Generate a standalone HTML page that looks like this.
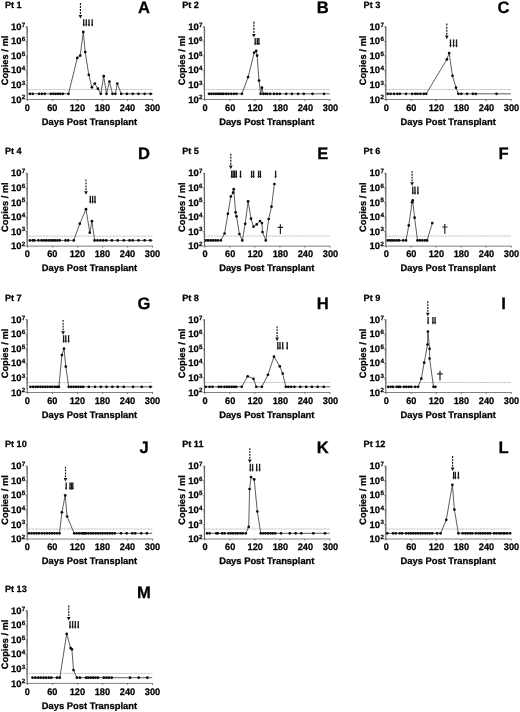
<!DOCTYPE html>
<html><head><meta charset="utf-8"><title>Figure</title>
<style>
html,body{margin:0;padding:0;background:#fff;}
body{width:520px;height:712px;overflow:hidden;}
svg{display:block;transform:translateZ(0);will-change:transform;filter:blur(0.3px);}
text{font-family:"Liberation Sans",sans-serif;font-weight:bold;fill:#000;stroke:#000;stroke-width:0.25px;text-rendering:geometricPrecision;}
.t{font-size:9.5px;}
.s{font-size:6.2px;}
.ty{font-size:9.45px;}
.l{font-size:9.4px;}
.ly{font-size:9.3px;}
.p{font-size:9.15px;}
.L{font-size:16.6px;}
</style></head><body>
<svg width="520" height="712" viewBox="0 0 520 712">
<rect width="520" height="712" fill="#fff"/>
<g>
<line x1="27.6" y1="89.5" x2="152.6" y2="89.5" stroke="#b4b4b4" stroke-width="0.9" stroke-dasharray="1 0.4"/>
<line x1="27.2" y1="26.5" x2="27.2" y2="100" stroke="#666666" stroke-width="1.1"/>
<path d="M27.6 99.5h-2.2M27.6 95.12h-1.3M27.6 92.55h-1.3M27.6 90.73h-1.3M27.6 89.32h-1.3M27.6 88.17h-1.3M27.6 87.2h-1.3M27.6 86.35h-1.3M27.6 85.61h-1.3M27.6 84.94h-2.2M27.6 80.56h-1.3M27.6 77.99h-1.3M27.6 76.17h-1.3M27.6 74.76h-1.3M27.6 73.61h-1.3M27.6 72.64h-1.3M27.6 71.79h-1.3M27.6 71.05h-1.3M27.6 70.38h-2.2M27.6 66h-1.3M27.6 63.43h-1.3M27.6 61.61h-1.3M27.6 60.2h-1.3M27.6 59.05h-1.3M27.6 58.08h-1.3M27.6 57.23h-1.3M27.6 56.49h-1.3M27.6 55.82h-2.2M27.6 51.44h-1.3M27.6 48.87h-1.3M27.6 47.05h-1.3M27.6 45.64h-1.3M27.6 44.49h-1.3M27.6 43.52h-1.3M27.6 42.67h-1.3M27.6 41.93h-1.3M27.6 41.26h-2.2M27.6 36.88h-1.3M27.6 34.31h-1.3M27.6 32.49h-1.3M27.6 31.08h-1.3M27.6 29.93h-1.3M27.6 28.96h-1.3M27.6 28.11h-1.3M27.6 27.37h-1.3M27.6 26.7h-2.2" stroke="#666666" stroke-width="0.7" fill="none"/>
<line x1="26.8" y1="99.5" x2="153" y2="99.5" stroke="#6a6a6a" stroke-width="0.85"/>
<path d="M27.6 99.5v1.5M52.6 99.5v1.5M77.6 99.5v1.5M102.6 99.5v1.5M127.6 99.5v1.5M152.6 99.5v1.5" stroke="#666666" stroke-width="0.9" fill="none"/>
<text transform="translate(27.25 110.6) scale(0.97 1)" class="t" text-anchor="middle">0</text>
<text transform="translate(52.31 110.6) scale(0.97 1)" class="t" text-anchor="middle">60</text>
<text transform="translate(77.37 110.6) scale(0.97 1)" class="t" text-anchor="middle">120</text>
<text transform="translate(102.43 110.6) scale(0.97 1)" class="t" text-anchor="middle">180</text>
<text transform="translate(127.49 110.6) scale(0.97 1)" class="t" text-anchor="middle">240</text>
<text transform="translate(152.55 110.6) scale(0.97 1)" class="t" text-anchor="middle">300</text>
<text transform="translate(21.5 102.6) scale(1 1)" class="ty" text-anchor="end">10</text>
<text transform="translate(21.8 99.4) scale(1 1)" class="s">2</text>
<text transform="translate(21.5 88.04) scale(1 1)" class="ty" text-anchor="end">10</text>
<text transform="translate(21.8 84.84) scale(1 1)" class="s">3</text>
<text transform="translate(21.5 73.48) scale(1 1)" class="ty" text-anchor="end">10</text>
<text transform="translate(21.8 70.28) scale(1 1)" class="s">4</text>
<text transform="translate(21.5 58.92) scale(1 1)" class="ty" text-anchor="end">10</text>
<text transform="translate(21.8 55.72) scale(1 1)" class="s">5</text>
<text transform="translate(21.5 44.36) scale(1 1)" class="ty" text-anchor="end">10</text>
<text transform="translate(21.8 41.16) scale(1 1)" class="s">6</text>
<text transform="translate(21.5 29.8) scale(1 1)" class="ty" text-anchor="end">10</text>
<text transform="translate(21.8 26.6) scale(1 1)" class="s">7</text>
<text transform="translate(89.5 124.8) scale(1 1)" class="l" text-anchor="middle">Days Post Transplant</text>
<text transform="translate(8 60.5) rotate(-90) scale(1 1)" class="ly" text-anchor="middle">Copies / ml</text>
<text transform="translate(4.9 8.2) scale(1 1)" class="p">Pt 1</text>
<text transform="translate(144 13.3) scale(1 1)" class="L" text-anchor="middle">A</text>
<path d="M29.8 93.8L32.7 93.8L39 93.8L41.9 93.8L44.8 93.8L50.8 93.8L53.4 93.8L55.7 93.8L58 93.8L60.3 93.8L62.9 93.8L68.5 93.8L77.3 57.9L80.2 55.6L83.3 31.9L85.2 52.1L88.8 74.8L91.9 87.3L94.8 83.5L97.9 88.7L100.8 93.8L103.7 76.2L106.5 93.8L109.4 81.5L112.5 93.8L115.4 93.8L117.3 83.5L121.2 93.8L126.9 93.8L132.7 93.8L138.5 93.8L144.6 93.8L150.6 93.8L152.6 93.8" stroke="#383838" stroke-width="0.82" fill="none" stroke-linejoin="round"/>
<circle cx="29.8" cy="93.8" r="1.35" fill="#0a0a0a"/>
<circle cx="32.7" cy="93.8" r="1.35" fill="#0a0a0a"/>
<circle cx="39" cy="93.8" r="1.35" fill="#0a0a0a"/>
<circle cx="41.9" cy="93.8" r="1.35" fill="#0a0a0a"/>
<circle cx="44.8" cy="93.8" r="1.35" fill="#0a0a0a"/>
<circle cx="50.8" cy="93.8" r="1.35" fill="#0a0a0a"/>
<circle cx="53.4" cy="93.8" r="1.35" fill="#0a0a0a"/>
<circle cx="55.7" cy="93.8" r="1.35" fill="#0a0a0a"/>
<circle cx="58" cy="93.8" r="1.35" fill="#0a0a0a"/>
<circle cx="60.3" cy="93.8" r="1.35" fill="#0a0a0a"/>
<circle cx="62.9" cy="93.8" r="1.35" fill="#0a0a0a"/>
<circle cx="68.5" cy="93.8" r="1.35" fill="#0a0a0a"/>
<circle cx="77.3" cy="57.9" r="1.35" fill="#0a0a0a"/>
<circle cx="80.2" cy="55.6" r="1.35" fill="#0a0a0a"/>
<circle cx="83.3" cy="31.9" r="1.35" fill="#0a0a0a"/>
<circle cx="85.2" cy="52.1" r="1.35" fill="#0a0a0a"/>
<circle cx="88.8" cy="74.8" r="1.35" fill="#0a0a0a"/>
<circle cx="91.9" cy="87.3" r="1.35" fill="#0a0a0a"/>
<circle cx="94.8" cy="83.5" r="1.35" fill="#0a0a0a"/>
<circle cx="97.9" cy="88.7" r="1.35" fill="#0a0a0a"/>
<circle cx="100.8" cy="93.8" r="1.35" fill="#0a0a0a"/>
<circle cx="103.7" cy="76.2" r="1.35" fill="#0a0a0a"/>
<circle cx="106.5" cy="93.8" r="1.35" fill="#0a0a0a"/>
<circle cx="109.4" cy="81.5" r="1.35" fill="#0a0a0a"/>
<circle cx="112.5" cy="93.8" r="1.35" fill="#0a0a0a"/>
<circle cx="115.4" cy="93.8" r="1.35" fill="#0a0a0a"/>
<circle cx="117.3" cy="83.5" r="1.35" fill="#0a0a0a"/>
<circle cx="121.2" cy="93.8" r="1.35" fill="#0a0a0a"/>
<circle cx="126.9" cy="93.8" r="1.35" fill="#0a0a0a"/>
<circle cx="132.7" cy="93.8" r="1.35" fill="#0a0a0a"/>
<circle cx="138.5" cy="93.8" r="1.35" fill="#0a0a0a"/>
<circle cx="144.6" cy="93.8" r="1.35" fill="#0a0a0a"/>
<circle cx="150.6" cy="93.8" r="1.35" fill="#0a0a0a"/>
<line x1="80.4" y1="3.1" x2="80.4" y2="14" stroke="#111" stroke-width="1.15" stroke-dasharray="1.94 1.05"/>
<path d="M80.4 18.5l-1.85 -3.6h3.7z" fill="#111"/>
<path d="M83.7 19.2V25.4" stroke="#1a1a1a" stroke-width="1.35" fill="none"/>
<path d="M82.65 24.2h2.1l-0.7 2.1h-0.7z" fill="#222"/>
<path d="M86.3 19.2V25.4" stroke="#1a1a1a" stroke-width="1.35" fill="none"/>
<path d="M85.25 24.2h2.1l-0.7 2.1h-0.7z" fill="#222"/>
<path d="M89 19.2V25.4" stroke="#1a1a1a" stroke-width="1.35" fill="none"/>
<path d="M87.95 24.2h2.1l-0.7 2.1h-0.7z" fill="#222"/>
<path d="M92.2 19.2V25.4" stroke="#1a1a1a" stroke-width="1.35" fill="none"/>
<path d="M91.15 24.2h2.1l-0.7 2.1h-0.7z" fill="#222"/>
</g>
<g>
<line x1="204.9" y1="89.5" x2="329.9" y2="89.5" stroke="#b4b4b4" stroke-width="0.9" stroke-dasharray="1 0.4"/>
<line x1="204.5" y1="26.5" x2="204.5" y2="100" stroke="#666666" stroke-width="1.1"/>
<path d="M204.9 99.5h-2.2M204.9 95.12h-1.3M204.9 92.55h-1.3M204.9 90.73h-1.3M204.9 89.32h-1.3M204.9 88.17h-1.3M204.9 87.2h-1.3M204.9 86.35h-1.3M204.9 85.61h-1.3M204.9 84.94h-2.2M204.9 80.56h-1.3M204.9 77.99h-1.3M204.9 76.17h-1.3M204.9 74.76h-1.3M204.9 73.61h-1.3M204.9 72.64h-1.3M204.9 71.79h-1.3M204.9 71.05h-1.3M204.9 70.38h-2.2M204.9 66h-1.3M204.9 63.43h-1.3M204.9 61.61h-1.3M204.9 60.2h-1.3M204.9 59.05h-1.3M204.9 58.08h-1.3M204.9 57.23h-1.3M204.9 56.49h-1.3M204.9 55.82h-2.2M204.9 51.44h-1.3M204.9 48.87h-1.3M204.9 47.05h-1.3M204.9 45.64h-1.3M204.9 44.49h-1.3M204.9 43.52h-1.3M204.9 42.67h-1.3M204.9 41.93h-1.3M204.9 41.26h-2.2M204.9 36.88h-1.3M204.9 34.31h-1.3M204.9 32.49h-1.3M204.9 31.08h-1.3M204.9 29.93h-1.3M204.9 28.96h-1.3M204.9 28.11h-1.3M204.9 27.37h-1.3M204.9 26.7h-2.2" stroke="#666666" stroke-width="0.7" fill="none"/>
<line x1="204.1" y1="99.5" x2="330.3" y2="99.5" stroke="#6a6a6a" stroke-width="0.85"/>
<path d="M204.9 99.5v1.5M229.9 99.5v1.5M254.9 99.5v1.5M279.9 99.5v1.5M304.9 99.5v1.5M329.9 99.5v1.5" stroke="#666666" stroke-width="0.9" fill="none"/>
<text transform="translate(205.15 110.6) scale(0.97 1)" class="t" text-anchor="middle">0</text>
<text transform="translate(230.21 110.6) scale(0.97 1)" class="t" text-anchor="middle">60</text>
<text transform="translate(255.27 110.6) scale(0.97 1)" class="t" text-anchor="middle">120</text>
<text transform="translate(280.33 110.6) scale(0.97 1)" class="t" text-anchor="middle">180</text>
<text transform="translate(305.39 110.6) scale(0.97 1)" class="t" text-anchor="middle">240</text>
<text transform="translate(330.45 110.6) scale(0.97 1)" class="t" text-anchor="middle">300</text>
<text transform="translate(198.8 102.6) scale(1 1)" class="ty" text-anchor="end">10</text>
<text transform="translate(199.1 99.4) scale(1 1)" class="s">2</text>
<text transform="translate(198.8 88.04) scale(1 1)" class="ty" text-anchor="end">10</text>
<text transform="translate(199.1 84.84) scale(1 1)" class="s">3</text>
<text transform="translate(198.8 73.48) scale(1 1)" class="ty" text-anchor="end">10</text>
<text transform="translate(199.1 70.28) scale(1 1)" class="s">4</text>
<text transform="translate(198.8 58.92) scale(1 1)" class="ty" text-anchor="end">10</text>
<text transform="translate(199.1 55.72) scale(1 1)" class="s">5</text>
<text transform="translate(198.8 44.36) scale(1 1)" class="ty" text-anchor="end">10</text>
<text transform="translate(199.1 41.16) scale(1 1)" class="s">6</text>
<text transform="translate(198.8 29.8) scale(1 1)" class="ty" text-anchor="end">10</text>
<text transform="translate(199.1 26.6) scale(1 1)" class="s">7</text>
<text transform="translate(266.8 124.8) scale(1 1)" class="l" text-anchor="middle">Days Post Transplant</text>
<text transform="translate(185.1 60.5) rotate(-90) scale(1 1)" class="ly" text-anchor="middle">Copies / ml</text>
<text transform="translate(182.2 8.2) scale(1 1)" class="p">Pt 2</text>
<text transform="translate(322.7 13.3) scale(1 1)" class="L" text-anchor="middle">B</text>
<path d="M209 93.8L211.2 93.8L213.5 93.8L215.8 93.8L217.9 93.8L219.8 93.8L221.7 93.8L223.5 93.8L226 93.8L228.5 93.8L231.3 93.8L234 93.8L236.5 93.8L241.9 93.8L248.1 77.1L254.2 52.7L256.2 50.8L257.1 55.6L259 80.6L260.6 93.8L261.9 87.7L263.3 93.8L265.4 93.8L267.3 93.8L270.2 93.8L274 93.8L276.9 93.8L279.8 93.8L286.2 93.8L291.9 93.8L298.1 93.8L303.8 93.8L312.5 93.8L324 93.8L329.8 93.8" stroke="#383838" stroke-width="0.82" fill="none" stroke-linejoin="round"/>
<circle cx="209" cy="93.8" r="1.35" fill="#0a0a0a"/>
<circle cx="211.2" cy="93.8" r="1.35" fill="#0a0a0a"/>
<circle cx="213.5" cy="93.8" r="1.35" fill="#0a0a0a"/>
<circle cx="215.8" cy="93.8" r="1.35" fill="#0a0a0a"/>
<circle cx="217.9" cy="93.8" r="1.35" fill="#0a0a0a"/>
<circle cx="219.8" cy="93.8" r="1.35" fill="#0a0a0a"/>
<circle cx="221.7" cy="93.8" r="1.35" fill="#0a0a0a"/>
<circle cx="223.5" cy="93.8" r="1.35" fill="#0a0a0a"/>
<circle cx="226" cy="93.8" r="1.35" fill="#0a0a0a"/>
<circle cx="228.5" cy="93.8" r="1.35" fill="#0a0a0a"/>
<circle cx="231.3" cy="93.8" r="1.35" fill="#0a0a0a"/>
<circle cx="234" cy="93.8" r="1.35" fill="#0a0a0a"/>
<circle cx="236.5" cy="93.8" r="1.35" fill="#0a0a0a"/>
<circle cx="241.9" cy="93.8" r="1.35" fill="#0a0a0a"/>
<circle cx="248.1" cy="77.1" r="1.35" fill="#0a0a0a"/>
<circle cx="254.2" cy="52.7" r="1.35" fill="#0a0a0a"/>
<circle cx="256.2" cy="50.8" r="1.35" fill="#0a0a0a"/>
<circle cx="257.1" cy="55.6" r="1.35" fill="#0a0a0a"/>
<circle cx="259" cy="80.6" r="1.35" fill="#0a0a0a"/>
<circle cx="260.6" cy="93.8" r="1.35" fill="#0a0a0a"/>
<circle cx="261.9" cy="87.7" r="1.35" fill="#0a0a0a"/>
<circle cx="263.3" cy="93.8" r="1.35" fill="#0a0a0a"/>
<circle cx="265.4" cy="93.8" r="1.35" fill="#0a0a0a"/>
<circle cx="267.3" cy="93.8" r="1.35" fill="#0a0a0a"/>
<circle cx="270.2" cy="93.8" r="1.35" fill="#0a0a0a"/>
<circle cx="274" cy="93.8" r="1.35" fill="#0a0a0a"/>
<circle cx="276.9" cy="93.8" r="1.35" fill="#0a0a0a"/>
<circle cx="279.8" cy="93.8" r="1.35" fill="#0a0a0a"/>
<circle cx="286.2" cy="93.8" r="1.35" fill="#0a0a0a"/>
<circle cx="291.9" cy="93.8" r="1.35" fill="#0a0a0a"/>
<circle cx="298.1" cy="93.8" r="1.35" fill="#0a0a0a"/>
<circle cx="303.8" cy="93.8" r="1.35" fill="#0a0a0a"/>
<circle cx="312.5" cy="93.8" r="1.35" fill="#0a0a0a"/>
<circle cx="324" cy="93.8" r="1.35" fill="#0a0a0a"/>
<line x1="253.9" y1="21.6" x2="253.9" y2="33" stroke="#111" stroke-width="1.15" stroke-dasharray="2.06 1.05"/>
<path d="M253.9 37.5l-1.85 -3.6h3.7z" fill="#111"/>
<path d="M255.2 38V44.2" stroke="#1a1a1a" stroke-width="1.35" fill="none"/>
<path d="M254.15 43h2.1l-0.7 2.1h-0.7z" fill="#222"/>
<path d="M257.3 38V44.2" stroke="#1a1a1a" stroke-width="1.35" fill="none"/>
<path d="M256.25 43h2.1l-0.7 2.1h-0.7z" fill="#222"/>
<path d="M258.9 38V44.2" stroke="#1a1a1a" stroke-width="1.35" fill="none"/>
<path d="M257.85 43h2.1l-0.7 2.1h-0.7z" fill="#222"/>
</g>
<g>
<line x1="386.2" y1="89.5" x2="511.2" y2="89.5" stroke="#b4b4b4" stroke-width="0.9" stroke-dasharray="1 0.4"/>
<line x1="385.8" y1="26.5" x2="385.8" y2="100" stroke="#666666" stroke-width="1.1"/>
<path d="M386.2 99.5h-2.2M386.2 95.12h-1.3M386.2 92.55h-1.3M386.2 90.73h-1.3M386.2 89.32h-1.3M386.2 88.17h-1.3M386.2 87.2h-1.3M386.2 86.35h-1.3M386.2 85.61h-1.3M386.2 84.94h-2.2M386.2 80.56h-1.3M386.2 77.99h-1.3M386.2 76.17h-1.3M386.2 74.76h-1.3M386.2 73.61h-1.3M386.2 72.64h-1.3M386.2 71.79h-1.3M386.2 71.05h-1.3M386.2 70.38h-2.2M386.2 66h-1.3M386.2 63.43h-1.3M386.2 61.61h-1.3M386.2 60.2h-1.3M386.2 59.05h-1.3M386.2 58.08h-1.3M386.2 57.23h-1.3M386.2 56.49h-1.3M386.2 55.82h-2.2M386.2 51.44h-1.3M386.2 48.87h-1.3M386.2 47.05h-1.3M386.2 45.64h-1.3M386.2 44.49h-1.3M386.2 43.52h-1.3M386.2 42.67h-1.3M386.2 41.93h-1.3M386.2 41.26h-2.2M386.2 36.88h-1.3M386.2 34.31h-1.3M386.2 32.49h-1.3M386.2 31.08h-1.3M386.2 29.93h-1.3M386.2 28.96h-1.3M386.2 28.11h-1.3M386.2 27.37h-1.3M386.2 26.7h-2.2" stroke="#666666" stroke-width="0.7" fill="none"/>
<line x1="385.4" y1="99.5" x2="511.6" y2="99.5" stroke="#6a6a6a" stroke-width="0.85"/>
<path d="M386.2 99.5v1.5M411.2 99.5v1.5M436.2 99.5v1.5M461.2 99.5v1.5M486.2 99.5v1.5M511.2 99.5v1.5" stroke="#666666" stroke-width="0.9" fill="none"/>
<text transform="translate(386.2 110.6) scale(0.97 1)" class="t" text-anchor="middle">0</text>
<text transform="translate(411.26 110.6) scale(0.97 1)" class="t" text-anchor="middle">60</text>
<text transform="translate(436.32 110.6) scale(0.97 1)" class="t" text-anchor="middle">120</text>
<text transform="translate(461.38 110.6) scale(0.97 1)" class="t" text-anchor="middle">180</text>
<text transform="translate(486.44 110.6) scale(0.97 1)" class="t" text-anchor="middle">240</text>
<text transform="translate(511.5 110.6) scale(0.97 1)" class="t" text-anchor="middle">300</text>
<text transform="translate(380.1 102.6) scale(1 1)" class="ty" text-anchor="end">10</text>
<text transform="translate(380.4 99.4) scale(1 1)" class="s">2</text>
<text transform="translate(380.1 88.04) scale(1 1)" class="ty" text-anchor="end">10</text>
<text transform="translate(380.4 84.84) scale(1 1)" class="s">3</text>
<text transform="translate(380.1 73.48) scale(1 1)" class="ty" text-anchor="end">10</text>
<text transform="translate(380.4 70.28) scale(1 1)" class="s">4</text>
<text transform="translate(380.1 58.92) scale(1 1)" class="ty" text-anchor="end">10</text>
<text transform="translate(380.4 55.72) scale(1 1)" class="s">5</text>
<text transform="translate(380.1 44.36) scale(1 1)" class="ty" text-anchor="end">10</text>
<text transform="translate(380.4 41.16) scale(1 1)" class="s">6</text>
<text transform="translate(380.1 29.8) scale(1 1)" class="ty" text-anchor="end">10</text>
<text transform="translate(380.4 26.6) scale(1 1)" class="s">7</text>
<text transform="translate(448.1 124.8) scale(1 1)" class="l" text-anchor="middle">Days Post Transplant</text>
<text transform="translate(366.1 60.5) rotate(-90) scale(1 1)" class="ly" text-anchor="middle">Copies / ml</text>
<text transform="translate(363.6 8.2) scale(1 1)" class="p">Pt 3</text>
<text transform="translate(503.6 13.3) scale(1 1)" class="L" text-anchor="middle">C</text>
<path d="M387.7 93.8L390.6 93.8L394 93.8L397.3 93.8L399.8 93.8L406 93.8L412.1 93.8L415.2 93.8L417.5 93.8L420.4 93.8L423.8 93.8L426.2 93.8L446.9 59.4L449.2 53.1L452.5 75.8L456 87.7L458.4 93.8L461.3 93.8L467.1 93.8L472.9 93.8L475.8 93.8L496.5 93.8L510.8 93.8" stroke="#383838" stroke-width="0.82" fill="none" stroke-linejoin="round"/>
<circle cx="387.7" cy="93.8" r="1.35" fill="#0a0a0a"/>
<circle cx="390.6" cy="93.8" r="1.35" fill="#0a0a0a"/>
<circle cx="394" cy="93.8" r="1.35" fill="#0a0a0a"/>
<circle cx="397.3" cy="93.8" r="1.35" fill="#0a0a0a"/>
<circle cx="399.8" cy="93.8" r="1.35" fill="#0a0a0a"/>
<circle cx="406" cy="93.8" r="1.35" fill="#0a0a0a"/>
<circle cx="412.1" cy="93.8" r="1.35" fill="#0a0a0a"/>
<circle cx="415.2" cy="93.8" r="1.35" fill="#0a0a0a"/>
<circle cx="417.5" cy="93.8" r="1.35" fill="#0a0a0a"/>
<circle cx="420.4" cy="93.8" r="1.35" fill="#0a0a0a"/>
<circle cx="423.8" cy="93.8" r="1.35" fill="#0a0a0a"/>
<circle cx="426.2" cy="93.8" r="1.35" fill="#0a0a0a"/>
<circle cx="446.9" cy="59.4" r="1.35" fill="#0a0a0a"/>
<circle cx="449.2" cy="53.1" r="1.35" fill="#0a0a0a"/>
<circle cx="452.5" cy="75.8" r="1.35" fill="#0a0a0a"/>
<circle cx="456" cy="87.7" r="1.35" fill="#0a0a0a"/>
<circle cx="458.4" cy="93.8" r="1.35" fill="#0a0a0a"/>
<circle cx="461.3" cy="93.8" r="1.35" fill="#0a0a0a"/>
<circle cx="467.1" cy="93.8" r="1.35" fill="#0a0a0a"/>
<circle cx="472.9" cy="93.8" r="1.35" fill="#0a0a0a"/>
<circle cx="475.8" cy="93.8" r="1.35" fill="#0a0a0a"/>
<circle cx="496.5" cy="93.8" r="1.35" fill="#0a0a0a"/>
<line x1="446.8" y1="23.6" x2="446.8" y2="34.7" stroke="#111" stroke-width="1.15" stroke-dasharray="1.99 1.05"/>
<path d="M446.8 39.2l-1.85 -3.6h3.7z" fill="#111"/>
<path d="M450.5 39.4V46.3" stroke="#1a1a1a" stroke-width="1.35" fill="none"/>
<path d="M449.45 45.1h2.1l-0.7 2.1h-0.7z" fill="#222"/>
<path d="M453.6 39.4V46.3" stroke="#1a1a1a" stroke-width="1.35" fill="none"/>
<path d="M452.55 45.1h2.1l-0.7 2.1h-0.7z" fill="#222"/>
<path d="M456.5 39.4V46.3" stroke="#1a1a1a" stroke-width="1.35" fill="none"/>
<path d="M455.45 45.1h2.1l-0.7 2.1h-0.7z" fill="#222"/>
</g>
<g>
<line x1="27.6" y1="236.1" x2="152.6" y2="236.1" stroke="#b4b4b4" stroke-width="0.9" stroke-dasharray="1 0.4"/>
<line x1="27.2" y1="173.1" x2="27.2" y2="246.6" stroke="#666666" stroke-width="1.1"/>
<path d="M27.6 246.1h-2.2M27.6 241.72h-1.3M27.6 239.15h-1.3M27.6 237.33h-1.3M27.6 235.92h-1.3M27.6 234.77h-1.3M27.6 233.8h-1.3M27.6 232.95h-1.3M27.6 232.21h-1.3M27.6 231.54h-2.2M27.6 227.16h-1.3M27.6 224.59h-1.3M27.6 222.77h-1.3M27.6 221.36h-1.3M27.6 220.21h-1.3M27.6 219.24h-1.3M27.6 218.39h-1.3M27.6 217.65h-1.3M27.6 216.98h-2.2M27.6 212.6h-1.3M27.6 210.03h-1.3M27.6 208.21h-1.3M27.6 206.8h-1.3M27.6 205.65h-1.3M27.6 204.68h-1.3M27.6 203.83h-1.3M27.6 203.09h-1.3M27.6 202.42h-2.2M27.6 198.04h-1.3M27.6 195.47h-1.3M27.6 193.65h-1.3M27.6 192.24h-1.3M27.6 191.09h-1.3M27.6 190.12h-1.3M27.6 189.27h-1.3M27.6 188.53h-1.3M27.6 187.86h-2.2M27.6 183.48h-1.3M27.6 180.91h-1.3M27.6 179.09h-1.3M27.6 177.68h-1.3M27.6 176.53h-1.3M27.6 175.56h-1.3M27.6 174.71h-1.3M27.6 173.97h-1.3M27.6 173.3h-2.2" stroke="#666666" stroke-width="0.7" fill="none"/>
<line x1="26.8" y1="246.1" x2="153" y2="246.1" stroke="#6a6a6a" stroke-width="0.85"/>
<path d="M27.6 246.1v1.5M52.6 246.1v1.5M77.6 246.1v1.5M102.6 246.1v1.5M127.6 246.1v1.5M152.6 246.1v1.5" stroke="#666666" stroke-width="0.9" fill="none"/>
<text transform="translate(27.25 257.2) scale(0.97 1)" class="t" text-anchor="middle">0</text>
<text transform="translate(52.31 257.2) scale(0.97 1)" class="t" text-anchor="middle">60</text>
<text transform="translate(77.37 257.2) scale(0.97 1)" class="t" text-anchor="middle">120</text>
<text transform="translate(102.43 257.2) scale(0.97 1)" class="t" text-anchor="middle">180</text>
<text transform="translate(127.49 257.2) scale(0.97 1)" class="t" text-anchor="middle">240</text>
<text transform="translate(152.55 257.2) scale(0.97 1)" class="t" text-anchor="middle">300</text>
<text transform="translate(21.5 249.2) scale(1 1)" class="ty" text-anchor="end">10</text>
<text transform="translate(21.8 246) scale(1 1)" class="s">2</text>
<text transform="translate(21.5 234.64) scale(1 1)" class="ty" text-anchor="end">10</text>
<text transform="translate(21.8 231.44) scale(1 1)" class="s">3</text>
<text transform="translate(21.5 220.08) scale(1 1)" class="ty" text-anchor="end">10</text>
<text transform="translate(21.8 216.88) scale(1 1)" class="s">4</text>
<text transform="translate(21.5 205.52) scale(1 1)" class="ty" text-anchor="end">10</text>
<text transform="translate(21.8 202.32) scale(1 1)" class="s">5</text>
<text transform="translate(21.5 190.96) scale(1 1)" class="ty" text-anchor="end">10</text>
<text transform="translate(21.8 187.76) scale(1 1)" class="s">6</text>
<text transform="translate(21.5 176.4) scale(1 1)" class="ty" text-anchor="end">10</text>
<text transform="translate(21.8 173.2) scale(1 1)" class="s">7</text>
<text transform="translate(89.5 271.4) scale(1 1)" class="l" text-anchor="middle">Days Post Transplant</text>
<text transform="translate(8 207.1) rotate(-90) scale(1 1)" class="ly" text-anchor="middle">Copies / ml</text>
<text transform="translate(4.9 154.3) scale(1 1)" class="p">Pt 4</text>
<text transform="translate(144 158.8) scale(1 1)" class="L" text-anchor="middle">D</text>
<path d="M29.8 240.4L32.7 240.4L34.4 240.4L38.4 240.4L41.5 240.4L43.8 240.4L46.2 240.4L48.5 240.4L50.8 240.4L53.1 240.4L55.2 240.4L57.5 240.4L59.8 240.4L65.5 240.4L68.1 240.4L73.8 240.4L79.8 223.7L86 209.2L89.8 232.7L91.9 221.2L94.6 240.4L97.5 240.4L100.4 240.4L103.3 240.4L106.2 240.4L111.9 240.4L117.7 240.4L123.8 240.4L129.6 240.4L132.7 240.4L138.5 240.4L144.6 240.4L150.4 240.4L152.6 240.4" stroke="#383838" stroke-width="0.82" fill="none" stroke-linejoin="round"/>
<circle cx="29.8" cy="240.4" r="1.35" fill="#0a0a0a"/>
<circle cx="32.7" cy="240.4" r="1.35" fill="#0a0a0a"/>
<circle cx="34.4" cy="240.4" r="1.35" fill="#0a0a0a"/>
<circle cx="38.4" cy="240.4" r="1.35" fill="#0a0a0a"/>
<circle cx="41.5" cy="240.4" r="1.35" fill="#0a0a0a"/>
<circle cx="43.8" cy="240.4" r="1.35" fill="#0a0a0a"/>
<circle cx="46.2" cy="240.4" r="1.35" fill="#0a0a0a"/>
<circle cx="48.5" cy="240.4" r="1.35" fill="#0a0a0a"/>
<circle cx="50.8" cy="240.4" r="1.35" fill="#0a0a0a"/>
<circle cx="53.1" cy="240.4" r="1.35" fill="#0a0a0a"/>
<circle cx="55.2" cy="240.4" r="1.35" fill="#0a0a0a"/>
<circle cx="57.5" cy="240.4" r="1.35" fill="#0a0a0a"/>
<circle cx="59.8" cy="240.4" r="1.35" fill="#0a0a0a"/>
<circle cx="65.5" cy="240.4" r="1.35" fill="#0a0a0a"/>
<circle cx="68.1" cy="240.4" r="1.35" fill="#0a0a0a"/>
<circle cx="73.8" cy="240.4" r="1.35" fill="#0a0a0a"/>
<circle cx="79.8" cy="223.7" r="1.35" fill="#0a0a0a"/>
<circle cx="86" cy="209.2" r="1.35" fill="#0a0a0a"/>
<circle cx="89.8" cy="232.7" r="1.35" fill="#0a0a0a"/>
<circle cx="91.9" cy="221.2" r="1.35" fill="#0a0a0a"/>
<circle cx="94.6" cy="240.4" r="1.35" fill="#0a0a0a"/>
<circle cx="97.5" cy="240.4" r="1.35" fill="#0a0a0a"/>
<circle cx="100.4" cy="240.4" r="1.35" fill="#0a0a0a"/>
<circle cx="103.3" cy="240.4" r="1.35" fill="#0a0a0a"/>
<circle cx="106.2" cy="240.4" r="1.35" fill="#0a0a0a"/>
<circle cx="111.9" cy="240.4" r="1.35" fill="#0a0a0a"/>
<circle cx="117.7" cy="240.4" r="1.35" fill="#0a0a0a"/>
<circle cx="123.8" cy="240.4" r="1.35" fill="#0a0a0a"/>
<circle cx="129.6" cy="240.4" r="1.35" fill="#0a0a0a"/>
<circle cx="132.7" cy="240.4" r="1.35" fill="#0a0a0a"/>
<circle cx="138.5" cy="240.4" r="1.35" fill="#0a0a0a"/>
<circle cx="144.6" cy="240.4" r="1.35" fill="#0a0a0a"/>
<circle cx="150.4" cy="240.4" r="1.35" fill="#0a0a0a"/>
<line x1="86" y1="179.4" x2="86" y2="190.3" stroke="#111" stroke-width="1.15" stroke-dasharray="1.94 1.05"/>
<path d="M86 194.8l-1.85 -3.6h3.7z" fill="#111"/>
<path d="M90.3 195.8V202.5" stroke="#1a1a1a" stroke-width="1.35" fill="none"/>
<path d="M89.25 201.3h2.1l-0.7 2.1h-0.7z" fill="#222"/>
<path d="M92.6 195.8V202.5" stroke="#1a1a1a" stroke-width="1.35" fill="none"/>
<path d="M91.55 201.3h2.1l-0.7 2.1h-0.7z" fill="#222"/>
<path d="M95 195.8V202.5" stroke="#1a1a1a" stroke-width="1.35" fill="none"/>
<path d="M93.95 201.3h2.1l-0.7 2.1h-0.7z" fill="#222"/>
</g>
<g>
<line x1="204.9" y1="236.1" x2="329.9" y2="236.1" stroke="#b4b4b4" stroke-width="0.9" stroke-dasharray="1 0.4"/>
<line x1="204.5" y1="173.1" x2="204.5" y2="246.6" stroke="#666666" stroke-width="1.1"/>
<path d="M204.9 246.1h-2.2M204.9 241.72h-1.3M204.9 239.15h-1.3M204.9 237.33h-1.3M204.9 235.92h-1.3M204.9 234.77h-1.3M204.9 233.8h-1.3M204.9 232.95h-1.3M204.9 232.21h-1.3M204.9 231.54h-2.2M204.9 227.16h-1.3M204.9 224.59h-1.3M204.9 222.77h-1.3M204.9 221.36h-1.3M204.9 220.21h-1.3M204.9 219.24h-1.3M204.9 218.39h-1.3M204.9 217.65h-1.3M204.9 216.98h-2.2M204.9 212.6h-1.3M204.9 210.03h-1.3M204.9 208.21h-1.3M204.9 206.8h-1.3M204.9 205.65h-1.3M204.9 204.68h-1.3M204.9 203.83h-1.3M204.9 203.09h-1.3M204.9 202.42h-2.2M204.9 198.04h-1.3M204.9 195.47h-1.3M204.9 193.65h-1.3M204.9 192.24h-1.3M204.9 191.09h-1.3M204.9 190.12h-1.3M204.9 189.27h-1.3M204.9 188.53h-1.3M204.9 187.86h-2.2M204.9 183.48h-1.3M204.9 180.91h-1.3M204.9 179.09h-1.3M204.9 177.68h-1.3M204.9 176.53h-1.3M204.9 175.56h-1.3M204.9 174.71h-1.3M204.9 173.97h-1.3M204.9 173.3h-2.2" stroke="#666666" stroke-width="0.7" fill="none"/>
<line x1="204.1" y1="246.1" x2="330.3" y2="246.1" stroke="#6a6a6a" stroke-width="0.85"/>
<path d="M204.9 246.1v1.5M229.9 246.1v1.5M254.9 246.1v1.5M279.9 246.1v1.5M304.9 246.1v1.5M329.9 246.1v1.5" stroke="#666666" stroke-width="0.9" fill="none"/>
<text transform="translate(205.15 257.2) scale(0.97 1)" class="t" text-anchor="middle">0</text>
<text transform="translate(230.21 257.2) scale(0.97 1)" class="t" text-anchor="middle">60</text>
<text transform="translate(255.27 257.2) scale(0.97 1)" class="t" text-anchor="middle">120</text>
<text transform="translate(280.33 257.2) scale(0.97 1)" class="t" text-anchor="middle">180</text>
<text transform="translate(305.39 257.2) scale(0.97 1)" class="t" text-anchor="middle">240</text>
<text transform="translate(330.45 257.2) scale(0.97 1)" class="t" text-anchor="middle">300</text>
<text transform="translate(198.8 249.2) scale(1 1)" class="ty" text-anchor="end">10</text>
<text transform="translate(199.1 246) scale(1 1)" class="s">2</text>
<text transform="translate(198.8 234.64) scale(1 1)" class="ty" text-anchor="end">10</text>
<text transform="translate(199.1 231.44) scale(1 1)" class="s">3</text>
<text transform="translate(198.8 220.08) scale(1 1)" class="ty" text-anchor="end">10</text>
<text transform="translate(199.1 216.88) scale(1 1)" class="s">4</text>
<text transform="translate(198.8 205.52) scale(1 1)" class="ty" text-anchor="end">10</text>
<text transform="translate(199.1 202.32) scale(1 1)" class="s">5</text>
<text transform="translate(198.8 190.96) scale(1 1)" class="ty" text-anchor="end">10</text>
<text transform="translate(199.1 187.76) scale(1 1)" class="s">6</text>
<text transform="translate(198.8 176.4) scale(1 1)" class="ty" text-anchor="end">10</text>
<text transform="translate(199.1 173.2) scale(1 1)" class="s">7</text>
<text transform="translate(266.8 271.4) scale(1 1)" class="l" text-anchor="middle">Days Post Transplant</text>
<text transform="translate(185.1 207.1) rotate(-90) scale(1 1)" class="ly" text-anchor="middle">Copies / ml</text>
<text transform="translate(182.2 154.3) scale(1 1)" class="p">Pt 5</text>
<text transform="translate(322.7 158.8) scale(1 1)" class="L" text-anchor="middle">E</text>
<path d="M205.8 240.4L208.1 240.4L210.6 240.4L212.9 240.4L215.4 240.4L217.7 240.4L220.8 240.4L224.6 233.5L227.9 213.8L230.8 196.5L233.1 192.7L233.7 189.2L235.6 212.3L236.5 216.3L239.4 234L242.3 240.4L245.2 223.8L248.1 201.3L251 218.7L253.5 226.7L256.7 224.4L260 221L261.9 223.1L262.5 232.1L265.8 240.4L268.7 219L271.5 206.7L274.4 184" stroke="#383838" stroke-width="0.82" fill="none" stroke-linejoin="round"/>
<circle cx="205.8" cy="240.4" r="1.35" fill="#0a0a0a"/>
<circle cx="208.1" cy="240.4" r="1.35" fill="#0a0a0a"/>
<circle cx="210.6" cy="240.4" r="1.35" fill="#0a0a0a"/>
<circle cx="212.9" cy="240.4" r="1.35" fill="#0a0a0a"/>
<circle cx="215.4" cy="240.4" r="1.35" fill="#0a0a0a"/>
<circle cx="217.7" cy="240.4" r="1.35" fill="#0a0a0a"/>
<circle cx="220.8" cy="240.4" r="1.35" fill="#0a0a0a"/>
<circle cx="224.6" cy="233.5" r="1.35" fill="#0a0a0a"/>
<circle cx="227.9" cy="213.8" r="1.35" fill="#0a0a0a"/>
<circle cx="230.8" cy="196.5" r="1.35" fill="#0a0a0a"/>
<circle cx="233.1" cy="192.7" r="1.35" fill="#0a0a0a"/>
<circle cx="233.7" cy="189.2" r="1.35" fill="#0a0a0a"/>
<circle cx="235.6" cy="212.3" r="1.35" fill="#0a0a0a"/>
<circle cx="236.5" cy="216.3" r="1.35" fill="#0a0a0a"/>
<circle cx="239.4" cy="234" r="1.35" fill="#0a0a0a"/>
<circle cx="242.3" cy="240.4" r="1.35" fill="#0a0a0a"/>
<circle cx="245.2" cy="223.8" r="1.35" fill="#0a0a0a"/>
<circle cx="248.1" cy="201.3" r="1.35" fill="#0a0a0a"/>
<circle cx="251" cy="218.7" r="1.35" fill="#0a0a0a"/>
<circle cx="253.5" cy="226.7" r="1.35" fill="#0a0a0a"/>
<circle cx="256.7" cy="224.4" r="1.35" fill="#0a0a0a"/>
<circle cx="260" cy="221" r="1.35" fill="#0a0a0a"/>
<circle cx="261.9" cy="223.1" r="1.35" fill="#0a0a0a"/>
<circle cx="262.5" cy="232.1" r="1.35" fill="#0a0a0a"/>
<circle cx="265.8" cy="240.4" r="1.35" fill="#0a0a0a"/>
<circle cx="268.7" cy="219" r="1.35" fill="#0a0a0a"/>
<circle cx="271.5" cy="206.7" r="1.35" fill="#0a0a0a"/>
<circle cx="274.4" cy="184" r="1.35" fill="#0a0a0a"/>
<line x1="230.8" y1="153.7" x2="230.8" y2="164.7" stroke="#111" stroke-width="1.15" stroke-dasharray="1.96 1.05"/>
<path d="M230.8 169.2l-1.85 -3.6h3.7z" fill="#111"/>
<path d="M231.7 170.6V177.2" stroke="#1a1a1a" stroke-width="1.35" fill="none"/>
<path d="M230.65 176h2.1l-0.7 2.1h-0.7z" fill="#222"/>
<path d="M233.2 170.6V177.2" stroke="#1a1a1a" stroke-width="1.35" fill="none"/>
<path d="M232.15 176h2.1l-0.7 2.1h-0.7z" fill="#222"/>
<path d="M234.7 170.6V177.2" stroke="#1a1a1a" stroke-width="1.35" fill="none"/>
<path d="M233.65 176h2.1l-0.7 2.1h-0.7z" fill="#222"/>
<path d="M236.3 170.6V177.2" stroke="#1a1a1a" stroke-width="1.35" fill="none"/>
<path d="M235.25 176h2.1l-0.7 2.1h-0.7z" fill="#222"/>
<path d="M240.5 170.6V177.2" stroke="#1a1a1a" stroke-width="1.35" fill="none"/>
<path d="M239.45 176h2.1l-0.7 2.1h-0.7z" fill="#222"/>
<path d="M251.6 170.6V177.2" stroke="#1a1a1a" stroke-width="1.35" fill="none"/>
<path d="M250.55 176h2.1l-0.7 2.1h-0.7z" fill="#222"/>
<path d="M253.6 170.6V177.2" stroke="#1a1a1a" stroke-width="1.35" fill="none"/>
<path d="M252.55 176h2.1l-0.7 2.1h-0.7z" fill="#222"/>
<path d="M258.6 170.6V177.2" stroke="#1a1a1a" stroke-width="1.35" fill="none"/>
<path d="M257.55 176h2.1l-0.7 2.1h-0.7z" fill="#222"/>
<path d="M260.4 170.6V177.2" stroke="#1a1a1a" stroke-width="1.35" fill="none"/>
<path d="M259.35 176h2.1l-0.7 2.1h-0.7z" fill="#222"/>
<path d="M275.6 170.6V177.2" stroke="#1a1a1a" stroke-width="1.35" fill="none"/>
<path d="M274.55 176h2.1l-0.7 2.1h-0.7z" fill="#222"/>
<path d="M280.4 224.3V234.1M277.7 227.3H283.1" stroke="#222" stroke-width="1.2" fill="none"/>
</g>
<g>
<line x1="386.2" y1="236.1" x2="511.2" y2="236.1" stroke="#b4b4b4" stroke-width="0.9" stroke-dasharray="1 0.4"/>
<line x1="385.8" y1="173.1" x2="385.8" y2="246.6" stroke="#666666" stroke-width="1.1"/>
<path d="M386.2 246.1h-2.2M386.2 241.72h-1.3M386.2 239.15h-1.3M386.2 237.33h-1.3M386.2 235.92h-1.3M386.2 234.77h-1.3M386.2 233.8h-1.3M386.2 232.95h-1.3M386.2 232.21h-1.3M386.2 231.54h-2.2M386.2 227.16h-1.3M386.2 224.59h-1.3M386.2 222.77h-1.3M386.2 221.36h-1.3M386.2 220.21h-1.3M386.2 219.24h-1.3M386.2 218.39h-1.3M386.2 217.65h-1.3M386.2 216.98h-2.2M386.2 212.6h-1.3M386.2 210.03h-1.3M386.2 208.21h-1.3M386.2 206.8h-1.3M386.2 205.65h-1.3M386.2 204.68h-1.3M386.2 203.83h-1.3M386.2 203.09h-1.3M386.2 202.42h-2.2M386.2 198.04h-1.3M386.2 195.47h-1.3M386.2 193.65h-1.3M386.2 192.24h-1.3M386.2 191.09h-1.3M386.2 190.12h-1.3M386.2 189.27h-1.3M386.2 188.53h-1.3M386.2 187.86h-2.2M386.2 183.48h-1.3M386.2 180.91h-1.3M386.2 179.09h-1.3M386.2 177.68h-1.3M386.2 176.53h-1.3M386.2 175.56h-1.3M386.2 174.71h-1.3M386.2 173.97h-1.3M386.2 173.3h-2.2" stroke="#666666" stroke-width="0.7" fill="none"/>
<line x1="385.4" y1="246.1" x2="511.6" y2="246.1" stroke="#6a6a6a" stroke-width="0.85"/>
<path d="M386.2 246.1v1.5M411.2 246.1v1.5M436.2 246.1v1.5M461.2 246.1v1.5M486.2 246.1v1.5M511.2 246.1v1.5" stroke="#666666" stroke-width="0.9" fill="none"/>
<text transform="translate(386.2 257.2) scale(0.97 1)" class="t" text-anchor="middle">0</text>
<text transform="translate(411.26 257.2) scale(0.97 1)" class="t" text-anchor="middle">60</text>
<text transform="translate(436.32 257.2) scale(0.97 1)" class="t" text-anchor="middle">120</text>
<text transform="translate(461.38 257.2) scale(0.97 1)" class="t" text-anchor="middle">180</text>
<text transform="translate(486.44 257.2) scale(0.97 1)" class="t" text-anchor="middle">240</text>
<text transform="translate(511.5 257.2) scale(0.97 1)" class="t" text-anchor="middle">300</text>
<text transform="translate(380.1 249.2) scale(1 1)" class="ty" text-anchor="end">10</text>
<text transform="translate(380.4 246) scale(1 1)" class="s">2</text>
<text transform="translate(380.1 234.64) scale(1 1)" class="ty" text-anchor="end">10</text>
<text transform="translate(380.4 231.44) scale(1 1)" class="s">3</text>
<text transform="translate(380.1 220.08) scale(1 1)" class="ty" text-anchor="end">10</text>
<text transform="translate(380.4 216.88) scale(1 1)" class="s">4</text>
<text transform="translate(380.1 205.52) scale(1 1)" class="ty" text-anchor="end">10</text>
<text transform="translate(380.4 202.32) scale(1 1)" class="s">5</text>
<text transform="translate(380.1 190.96) scale(1 1)" class="ty" text-anchor="end">10</text>
<text transform="translate(380.4 187.76) scale(1 1)" class="s">6</text>
<text transform="translate(380.1 176.4) scale(1 1)" class="ty" text-anchor="end">10</text>
<text transform="translate(380.4 173.2) scale(1 1)" class="s">7</text>
<text transform="translate(448.1 271.4) scale(1 1)" class="l" text-anchor="middle">Days Post Transplant</text>
<text transform="translate(366.1 207.1) rotate(-90) scale(1 1)" class="ly" text-anchor="middle">Copies / ml</text>
<text transform="translate(363.6 154.3) scale(1 1)" class="p">Pt 6</text>
<text transform="translate(503.6 158.8) scale(1 1)" class="L" text-anchor="middle">F</text>
<path d="M387.7 240.4L390 240.4L392.1 240.4L394.4 240.4L396.9 240.4L399.2 240.4L403.1 240.4L406 240.4L408.8 225.4L412.1 202.3L412.7 200.4L414.6 217.7L417.5 240.4L419.8 240.4L422.3 240.4L424.8 240.4L427.1 240.4L432.3 223.1" stroke="#383838" stroke-width="0.82" fill="none" stroke-linejoin="round"/>
<circle cx="387.7" cy="240.4" r="1.35" fill="#0a0a0a"/>
<circle cx="390" cy="240.4" r="1.35" fill="#0a0a0a"/>
<circle cx="392.1" cy="240.4" r="1.35" fill="#0a0a0a"/>
<circle cx="394.4" cy="240.4" r="1.35" fill="#0a0a0a"/>
<circle cx="396.9" cy="240.4" r="1.35" fill="#0a0a0a"/>
<circle cx="399.2" cy="240.4" r="1.35" fill="#0a0a0a"/>
<circle cx="403.1" cy="240.4" r="1.35" fill="#0a0a0a"/>
<circle cx="406" cy="240.4" r="1.35" fill="#0a0a0a"/>
<circle cx="408.8" cy="225.4" r="1.35" fill="#0a0a0a"/>
<circle cx="412.1" cy="202.3" r="1.35" fill="#0a0a0a"/>
<circle cx="412.7" cy="200.4" r="1.35" fill="#0a0a0a"/>
<circle cx="414.6" cy="217.7" r="1.35" fill="#0a0a0a"/>
<circle cx="417.5" cy="240.4" r="1.35" fill="#0a0a0a"/>
<circle cx="419.8" cy="240.4" r="1.35" fill="#0a0a0a"/>
<circle cx="422.3" cy="240.4" r="1.35" fill="#0a0a0a"/>
<circle cx="424.8" cy="240.4" r="1.35" fill="#0a0a0a"/>
<circle cx="427.1" cy="240.4" r="1.35" fill="#0a0a0a"/>
<circle cx="432.3" cy="223.1" r="1.35" fill="#0a0a0a"/>
<line x1="412.1" y1="171" x2="412.1" y2="181.3" stroke="#111" stroke-width="1.15" stroke-dasharray="1.79 1.05"/>
<path d="M412.1 185.8l-1.85 -3.6h3.7z" fill="#111"/>
<path d="M412.8 186.6V193.7" stroke="#1a1a1a" stroke-width="1.35" fill="none"/>
<path d="M411.75 192.5h2.1l-0.7 2.1h-0.7z" fill="#222"/>
<path d="M415 186.6V193.7" stroke="#1a1a1a" stroke-width="1.35" fill="none"/>
<path d="M413.95 192.5h2.1l-0.7 2.1h-0.7z" fill="#222"/>
<path d="M417.9 186.6V193.7" stroke="#1a1a1a" stroke-width="1.35" fill="none"/>
<path d="M416.85 192.5h2.1l-0.7 2.1h-0.7z" fill="#222"/>
<path d="M444.8 224V233.8M442.1 227H447.5" stroke="#222" stroke-width="1.2" fill="none"/>
</g>
<g>
<line x1="27.6" y1="382.5" x2="152.6" y2="382.5" stroke="#b4b4b4" stroke-width="0.9" stroke-dasharray="1 0.4"/>
<line x1="27.2" y1="319.5" x2="27.2" y2="393" stroke="#666666" stroke-width="1.1"/>
<path d="M27.6 392.5h-2.2M27.6 388.12h-1.3M27.6 385.55h-1.3M27.6 383.73h-1.3M27.6 382.32h-1.3M27.6 381.17h-1.3M27.6 380.2h-1.3M27.6 379.35h-1.3M27.6 378.61h-1.3M27.6 377.94h-2.2M27.6 373.56h-1.3M27.6 370.99h-1.3M27.6 369.17h-1.3M27.6 367.76h-1.3M27.6 366.61h-1.3M27.6 365.64h-1.3M27.6 364.79h-1.3M27.6 364.05h-1.3M27.6 363.38h-2.2M27.6 359h-1.3M27.6 356.43h-1.3M27.6 354.61h-1.3M27.6 353.2h-1.3M27.6 352.05h-1.3M27.6 351.08h-1.3M27.6 350.23h-1.3M27.6 349.49h-1.3M27.6 348.82h-2.2M27.6 344.44h-1.3M27.6 341.87h-1.3M27.6 340.05h-1.3M27.6 338.64h-1.3M27.6 337.49h-1.3M27.6 336.52h-1.3M27.6 335.67h-1.3M27.6 334.93h-1.3M27.6 334.26h-2.2M27.6 329.88h-1.3M27.6 327.31h-1.3M27.6 325.49h-1.3M27.6 324.08h-1.3M27.6 322.93h-1.3M27.6 321.96h-1.3M27.6 321.11h-1.3M27.6 320.37h-1.3M27.6 319.7h-2.2" stroke="#666666" stroke-width="0.7" fill="none"/>
<line x1="26.8" y1="392.5" x2="153" y2="392.5" stroke="#6a6a6a" stroke-width="0.85"/>
<path d="M27.6 392.5v1.5M52.6 392.5v1.5M77.6 392.5v1.5M102.6 392.5v1.5M127.6 392.5v1.5M152.6 392.5v1.5" stroke="#666666" stroke-width="0.9" fill="none"/>
<text transform="translate(27.25 403.95) scale(0.97 1)" class="t" text-anchor="middle">0</text>
<text transform="translate(52.31 403.95) scale(0.97 1)" class="t" text-anchor="middle">60</text>
<text transform="translate(77.37 403.95) scale(0.97 1)" class="t" text-anchor="middle">120</text>
<text transform="translate(102.43 403.95) scale(0.97 1)" class="t" text-anchor="middle">180</text>
<text transform="translate(127.49 403.95) scale(0.97 1)" class="t" text-anchor="middle">240</text>
<text transform="translate(152.55 403.95) scale(0.97 1)" class="t" text-anchor="middle">300</text>
<text transform="translate(21.5 395.6) scale(1 1)" class="ty" text-anchor="end">10</text>
<text transform="translate(21.8 392.4) scale(1 1)" class="s">2</text>
<text transform="translate(21.5 381.04) scale(1 1)" class="ty" text-anchor="end">10</text>
<text transform="translate(21.8 377.84) scale(1 1)" class="s">3</text>
<text transform="translate(21.5 366.48) scale(1 1)" class="ty" text-anchor="end">10</text>
<text transform="translate(21.8 363.28) scale(1 1)" class="s">4</text>
<text transform="translate(21.5 351.92) scale(1 1)" class="ty" text-anchor="end">10</text>
<text transform="translate(21.8 348.72) scale(1 1)" class="s">5</text>
<text transform="translate(21.5 337.36) scale(1 1)" class="ty" text-anchor="end">10</text>
<text transform="translate(21.8 334.16) scale(1 1)" class="s">6</text>
<text transform="translate(21.5 322.8) scale(1 1)" class="ty" text-anchor="end">10</text>
<text transform="translate(21.8 319.6) scale(1 1)" class="s">7</text>
<text transform="translate(89.5 418.15) scale(1 1)" class="l" text-anchor="middle">Days Post Transplant</text>
<text transform="translate(8 353.5) rotate(-90) scale(1 1)" class="ly" text-anchor="middle">Copies / ml</text>
<text transform="translate(4.9 300.7) scale(1 1)" class="p">Pt 7</text>
<text transform="translate(144 309.3) scale(1 1)" class="L" text-anchor="middle">G</text>
<path d="M30.4 386.8L33.1 386.8L35.6 386.8L37.9 386.8L40.4 386.8L42.7 386.8L45.2 386.8L47.5 386.8L50 386.8L52.3 386.8L54.8 386.8L57.1 386.8L58.9 386.8L61.9 355.1L64 348.7L65.8 366.6L68.7 386.8L71.2 386.8L73.6 386.8L76 386.8L78.4 386.8L80.8 386.8L83.2 386.8L88.8 386.8L95 386.8L100.8 386.8L106.5 386.8L112.3 386.8L117.7 386.8L123.8 386.8L133.1 386.8L141.7 386.8L150.4 386.8L152.4 386.8" stroke="#383838" stroke-width="0.82" fill="none" stroke-linejoin="round"/>
<circle cx="30.4" cy="386.8" r="1.35" fill="#0a0a0a"/>
<circle cx="33.1" cy="386.8" r="1.35" fill="#0a0a0a"/>
<circle cx="35.6" cy="386.8" r="1.35" fill="#0a0a0a"/>
<circle cx="37.9" cy="386.8" r="1.35" fill="#0a0a0a"/>
<circle cx="40.4" cy="386.8" r="1.35" fill="#0a0a0a"/>
<circle cx="42.7" cy="386.8" r="1.35" fill="#0a0a0a"/>
<circle cx="45.2" cy="386.8" r="1.35" fill="#0a0a0a"/>
<circle cx="47.5" cy="386.8" r="1.35" fill="#0a0a0a"/>
<circle cx="50" cy="386.8" r="1.35" fill="#0a0a0a"/>
<circle cx="52.3" cy="386.8" r="1.35" fill="#0a0a0a"/>
<circle cx="54.8" cy="386.8" r="1.35" fill="#0a0a0a"/>
<circle cx="57.1" cy="386.8" r="1.35" fill="#0a0a0a"/>
<circle cx="58.9" cy="386.8" r="1.35" fill="#0a0a0a"/>
<circle cx="61.9" cy="355.1" r="1.35" fill="#0a0a0a"/>
<circle cx="64" cy="348.7" r="1.35" fill="#0a0a0a"/>
<circle cx="65.8" cy="366.6" r="1.35" fill="#0a0a0a"/>
<circle cx="68.7" cy="386.8" r="1.35" fill="#0a0a0a"/>
<circle cx="71.2" cy="386.8" r="1.35" fill="#0a0a0a"/>
<circle cx="73.6" cy="386.8" r="1.35" fill="#0a0a0a"/>
<circle cx="76" cy="386.8" r="1.35" fill="#0a0a0a"/>
<circle cx="78.4" cy="386.8" r="1.35" fill="#0a0a0a"/>
<circle cx="80.8" cy="386.8" r="1.35" fill="#0a0a0a"/>
<circle cx="83.2" cy="386.8" r="1.35" fill="#0a0a0a"/>
<circle cx="88.8" cy="386.8" r="1.35" fill="#0a0a0a"/>
<circle cx="95" cy="386.8" r="1.35" fill="#0a0a0a"/>
<circle cx="100.8" cy="386.8" r="1.35" fill="#0a0a0a"/>
<circle cx="106.5" cy="386.8" r="1.35" fill="#0a0a0a"/>
<circle cx="112.3" cy="386.8" r="1.35" fill="#0a0a0a"/>
<circle cx="117.7" cy="386.8" r="1.35" fill="#0a0a0a"/>
<circle cx="123.8" cy="386.8" r="1.35" fill="#0a0a0a"/>
<circle cx="133.1" cy="386.8" r="1.35" fill="#0a0a0a"/>
<circle cx="141.7" cy="386.8" r="1.35" fill="#0a0a0a"/>
<circle cx="150.4" cy="386.8" r="1.35" fill="#0a0a0a"/>
<line x1="63.1" y1="320.1" x2="63.1" y2="330.3" stroke="#111" stroke-width="1.15" stroke-dasharray="1.76 1.05"/>
<path d="M63.1 334.8l-1.85 -3.6h3.7z" fill="#111"/>
<path d="M63.6 335.2V341.9" stroke="#1a1a1a" stroke-width="1.35" fill="none"/>
<path d="M62.55 340.7h2.1l-0.7 2.1h-0.7z" fill="#222"/>
<path d="M65.8 335.2V341.9" stroke="#1a1a1a" stroke-width="1.35" fill="none"/>
<path d="M64.75 340.7h2.1l-0.7 2.1h-0.7z" fill="#222"/>
<path d="M68.6 335.2V341.9" stroke="#1a1a1a" stroke-width="1.35" fill="none"/>
<path d="M67.55 340.7h2.1l-0.7 2.1h-0.7z" fill="#222"/>
</g>
<g>
<line x1="204.9" y1="382.5" x2="329.9" y2="382.5" stroke="#b4b4b4" stroke-width="0.9" stroke-dasharray="1 0.4"/>
<line x1="204.5" y1="319.5" x2="204.5" y2="393" stroke="#666666" stroke-width="1.1"/>
<path d="M204.9 392.5h-2.2M204.9 388.12h-1.3M204.9 385.55h-1.3M204.9 383.73h-1.3M204.9 382.32h-1.3M204.9 381.17h-1.3M204.9 380.2h-1.3M204.9 379.35h-1.3M204.9 378.61h-1.3M204.9 377.94h-2.2M204.9 373.56h-1.3M204.9 370.99h-1.3M204.9 369.17h-1.3M204.9 367.76h-1.3M204.9 366.61h-1.3M204.9 365.64h-1.3M204.9 364.79h-1.3M204.9 364.05h-1.3M204.9 363.38h-2.2M204.9 359h-1.3M204.9 356.43h-1.3M204.9 354.61h-1.3M204.9 353.2h-1.3M204.9 352.05h-1.3M204.9 351.08h-1.3M204.9 350.23h-1.3M204.9 349.49h-1.3M204.9 348.82h-2.2M204.9 344.44h-1.3M204.9 341.87h-1.3M204.9 340.05h-1.3M204.9 338.64h-1.3M204.9 337.49h-1.3M204.9 336.52h-1.3M204.9 335.67h-1.3M204.9 334.93h-1.3M204.9 334.26h-2.2M204.9 329.88h-1.3M204.9 327.31h-1.3M204.9 325.49h-1.3M204.9 324.08h-1.3M204.9 322.93h-1.3M204.9 321.96h-1.3M204.9 321.11h-1.3M204.9 320.37h-1.3M204.9 319.7h-2.2" stroke="#666666" stroke-width="0.7" fill="none"/>
<line x1="204.1" y1="392.5" x2="330.3" y2="392.5" stroke="#6a6a6a" stroke-width="0.85"/>
<path d="M204.9 392.5v1.5M229.9 392.5v1.5M254.9 392.5v1.5M279.9 392.5v1.5M304.9 392.5v1.5M329.9 392.5v1.5" stroke="#666666" stroke-width="0.9" fill="none"/>
<text transform="translate(205.15 403.95) scale(0.97 1)" class="t" text-anchor="middle">0</text>
<text transform="translate(230.21 403.95) scale(0.97 1)" class="t" text-anchor="middle">60</text>
<text transform="translate(255.27 403.95) scale(0.97 1)" class="t" text-anchor="middle">120</text>
<text transform="translate(280.33 403.95) scale(0.97 1)" class="t" text-anchor="middle">180</text>
<text transform="translate(305.39 403.95) scale(0.97 1)" class="t" text-anchor="middle">240</text>
<text transform="translate(330.45 403.95) scale(0.97 1)" class="t" text-anchor="middle">300</text>
<text transform="translate(198.8 395.6) scale(1 1)" class="ty" text-anchor="end">10</text>
<text transform="translate(199.1 392.4) scale(1 1)" class="s">2</text>
<text transform="translate(198.8 381.04) scale(1 1)" class="ty" text-anchor="end">10</text>
<text transform="translate(199.1 377.84) scale(1 1)" class="s">3</text>
<text transform="translate(198.8 366.48) scale(1 1)" class="ty" text-anchor="end">10</text>
<text transform="translate(199.1 363.28) scale(1 1)" class="s">4</text>
<text transform="translate(198.8 351.92) scale(1 1)" class="ty" text-anchor="end">10</text>
<text transform="translate(199.1 348.72) scale(1 1)" class="s">5</text>
<text transform="translate(198.8 337.36) scale(1 1)" class="ty" text-anchor="end">10</text>
<text transform="translate(199.1 334.16) scale(1 1)" class="s">6</text>
<text transform="translate(198.8 322.8) scale(1 1)" class="ty" text-anchor="end">10</text>
<text transform="translate(199.1 319.6) scale(1 1)" class="s">7</text>
<text transform="translate(266.8 418.15) scale(1 1)" class="l" text-anchor="middle">Days Post Transplant</text>
<text transform="translate(185.1 353.5) rotate(-90) scale(1 1)" class="ly" text-anchor="middle">Copies / ml</text>
<text transform="translate(182.2 300.7) scale(1 1)" class="p">Pt 8</text>
<text transform="translate(322.7 309.3) scale(1 1)" class="L" text-anchor="middle">H</text>
<path d="M205.8 386.8L209.6 386.8L212.5 386.8L218.7 386.8L221.2 386.8L224.4 386.8L226.9 386.8L229.2 386.8L231.7 386.8L234 386.8L236.2 386.8L241.7 386.8L247.7 376.3L253.5 378.8L256.3 386.8L261.9 386.8L267.9 374.8L274 356.7L279.8 366.3L282.7 373.5L285.8 386.8L288.3 386.8L291.1 386.8L294.4 386.8L300.2 386.8L306.2 386.8L311.9 386.8L317.7 386.8L323.8 386.8L330.2 386.8" stroke="#383838" stroke-width="0.82" fill="none" stroke-linejoin="round"/>
<circle cx="205.8" cy="386.8" r="1.35" fill="#0a0a0a"/>
<circle cx="209.6" cy="386.8" r="1.35" fill="#0a0a0a"/>
<circle cx="212.5" cy="386.8" r="1.35" fill="#0a0a0a"/>
<circle cx="218.7" cy="386.8" r="1.35" fill="#0a0a0a"/>
<circle cx="221.2" cy="386.8" r="1.35" fill="#0a0a0a"/>
<circle cx="224.4" cy="386.8" r="1.35" fill="#0a0a0a"/>
<circle cx="226.9" cy="386.8" r="1.35" fill="#0a0a0a"/>
<circle cx="229.2" cy="386.8" r="1.35" fill="#0a0a0a"/>
<circle cx="231.7" cy="386.8" r="1.35" fill="#0a0a0a"/>
<circle cx="234" cy="386.8" r="1.35" fill="#0a0a0a"/>
<circle cx="236.2" cy="386.8" r="1.35" fill="#0a0a0a"/>
<circle cx="241.7" cy="386.8" r="1.35" fill="#0a0a0a"/>
<circle cx="247.7" cy="376.3" r="1.35" fill="#0a0a0a"/>
<circle cx="253.5" cy="378.8" r="1.35" fill="#0a0a0a"/>
<circle cx="256.3" cy="386.8" r="1.35" fill="#0a0a0a"/>
<circle cx="261.9" cy="386.8" r="1.35" fill="#0a0a0a"/>
<circle cx="267.9" cy="374.8" r="1.35" fill="#0a0a0a"/>
<circle cx="274" cy="356.7" r="1.35" fill="#0a0a0a"/>
<circle cx="279.8" cy="366.3" r="1.35" fill="#0a0a0a"/>
<circle cx="282.7" cy="373.5" r="1.35" fill="#0a0a0a"/>
<circle cx="285.8" cy="386.8" r="1.35" fill="#0a0a0a"/>
<circle cx="288.3" cy="386.8" r="1.35" fill="#0a0a0a"/>
<circle cx="291.1" cy="386.8" r="1.35" fill="#0a0a0a"/>
<circle cx="294.4" cy="386.8" r="1.35" fill="#0a0a0a"/>
<circle cx="300.2" cy="386.8" r="1.35" fill="#0a0a0a"/>
<circle cx="306.2" cy="386.8" r="1.35" fill="#0a0a0a"/>
<circle cx="311.9" cy="386.8" r="1.35" fill="#0a0a0a"/>
<circle cx="317.7" cy="386.8" r="1.35" fill="#0a0a0a"/>
<circle cx="323.8" cy="386.8" r="1.35" fill="#0a0a0a"/>
<line x1="277.1" y1="326.5" x2="277.1" y2="336.7" stroke="#111" stroke-width="1.15" stroke-dasharray="1.76 1.05"/>
<path d="M277.1 341.2l-1.85 -3.6h3.7z" fill="#111"/>
<path d="M277.8 342.1V348.8" stroke="#1a1a1a" stroke-width="1.35" fill="none"/>
<path d="M276.75 347.6h2.1l-0.7 2.1h-0.7z" fill="#222"/>
<path d="M280 342.1V348.8" stroke="#1a1a1a" stroke-width="1.35" fill="none"/>
<path d="M278.95 347.6h2.1l-0.7 2.1h-0.7z" fill="#222"/>
<path d="M282.7 342.1V348.8" stroke="#1a1a1a" stroke-width="1.35" fill="none"/>
<path d="M281.65 347.6h2.1l-0.7 2.1h-0.7z" fill="#222"/>
<path d="M287.2 342.1V348.8" stroke="#1a1a1a" stroke-width="1.35" fill="none"/>
<path d="M286.15 347.6h2.1l-0.7 2.1h-0.7z" fill="#222"/>
</g>
<g>
<line x1="386.2" y1="382.5" x2="511.2" y2="382.5" stroke="#b4b4b4" stroke-width="0.9" stroke-dasharray="1 0.4"/>
<line x1="385.8" y1="319.5" x2="385.8" y2="393" stroke="#666666" stroke-width="1.1"/>
<path d="M386.2 392.5h-2.2M386.2 388.12h-1.3M386.2 385.55h-1.3M386.2 383.73h-1.3M386.2 382.32h-1.3M386.2 381.17h-1.3M386.2 380.2h-1.3M386.2 379.35h-1.3M386.2 378.61h-1.3M386.2 377.94h-2.2M386.2 373.56h-1.3M386.2 370.99h-1.3M386.2 369.17h-1.3M386.2 367.76h-1.3M386.2 366.61h-1.3M386.2 365.64h-1.3M386.2 364.79h-1.3M386.2 364.05h-1.3M386.2 363.38h-2.2M386.2 359h-1.3M386.2 356.43h-1.3M386.2 354.61h-1.3M386.2 353.2h-1.3M386.2 352.05h-1.3M386.2 351.08h-1.3M386.2 350.23h-1.3M386.2 349.49h-1.3M386.2 348.82h-2.2M386.2 344.44h-1.3M386.2 341.87h-1.3M386.2 340.05h-1.3M386.2 338.64h-1.3M386.2 337.49h-1.3M386.2 336.52h-1.3M386.2 335.67h-1.3M386.2 334.93h-1.3M386.2 334.26h-2.2M386.2 329.88h-1.3M386.2 327.31h-1.3M386.2 325.49h-1.3M386.2 324.08h-1.3M386.2 322.93h-1.3M386.2 321.96h-1.3M386.2 321.11h-1.3M386.2 320.37h-1.3M386.2 319.7h-2.2" stroke="#666666" stroke-width="0.7" fill="none"/>
<line x1="385.4" y1="392.5" x2="511.6" y2="392.5" stroke="#6a6a6a" stroke-width="0.85"/>
<path d="M386.2 392.5v1.5M411.2 392.5v1.5M436.2 392.5v1.5M461.2 392.5v1.5M486.2 392.5v1.5M511.2 392.5v1.5" stroke="#666666" stroke-width="0.9" fill="none"/>
<text transform="translate(386.2 403.95) scale(0.97 1)" class="t" text-anchor="middle">0</text>
<text transform="translate(411.26 403.95) scale(0.97 1)" class="t" text-anchor="middle">60</text>
<text transform="translate(436.32 403.95) scale(0.97 1)" class="t" text-anchor="middle">120</text>
<text transform="translate(461.38 403.95) scale(0.97 1)" class="t" text-anchor="middle">180</text>
<text transform="translate(486.44 403.95) scale(0.97 1)" class="t" text-anchor="middle">240</text>
<text transform="translate(511.5 403.95) scale(0.97 1)" class="t" text-anchor="middle">300</text>
<text transform="translate(380.1 395.6) scale(1 1)" class="ty" text-anchor="end">10</text>
<text transform="translate(380.4 392.4) scale(1 1)" class="s">2</text>
<text transform="translate(380.1 381.04) scale(1 1)" class="ty" text-anchor="end">10</text>
<text transform="translate(380.4 377.84) scale(1 1)" class="s">3</text>
<text transform="translate(380.1 366.48) scale(1 1)" class="ty" text-anchor="end">10</text>
<text transform="translate(380.4 363.28) scale(1 1)" class="s">4</text>
<text transform="translate(380.1 351.92) scale(1 1)" class="ty" text-anchor="end">10</text>
<text transform="translate(380.4 348.72) scale(1 1)" class="s">5</text>
<text transform="translate(380.1 337.36) scale(1 1)" class="ty" text-anchor="end">10</text>
<text transform="translate(380.4 334.16) scale(1 1)" class="s">6</text>
<text transform="translate(380.1 322.8) scale(1 1)" class="ty" text-anchor="end">10</text>
<text transform="translate(380.4 319.6) scale(1 1)" class="s">7</text>
<text transform="translate(448.1 418.15) scale(1 1)" class="l" text-anchor="middle">Days Post Transplant</text>
<text transform="translate(366.1 353.5) rotate(-90) scale(1 1)" class="ly" text-anchor="middle">Copies / ml</text>
<text transform="translate(363.6 300.7) scale(1 1)" class="p">Pt 9</text>
<text transform="translate(503.6 309.3) scale(1 1)" class="L" text-anchor="middle">I</text>
<path d="M388.1 386.8L390.6 386.8L392.9 386.8L396.7 386.8L398.7 386.8L400.2 386.8L404 386.8L406.3 386.8L408.8 386.8L411.2 386.8L415.2 386.8L418.1 386.8L421.3 378.7L424.2 362.7L427.5 344.6L427.9 331.5L429.6 348.8L429.6 358.5L433.5 386.8L435.4 386.8" stroke="#383838" stroke-width="0.82" fill="none" stroke-linejoin="round"/>
<circle cx="388.1" cy="386.8" r="1.35" fill="#0a0a0a"/>
<circle cx="390.6" cy="386.8" r="1.35" fill="#0a0a0a"/>
<circle cx="392.9" cy="386.8" r="1.35" fill="#0a0a0a"/>
<circle cx="396.7" cy="386.8" r="1.35" fill="#0a0a0a"/>
<circle cx="398.7" cy="386.8" r="1.35" fill="#0a0a0a"/>
<circle cx="400.2" cy="386.8" r="1.35" fill="#0a0a0a"/>
<circle cx="404" cy="386.8" r="1.35" fill="#0a0a0a"/>
<circle cx="406.3" cy="386.8" r="1.35" fill="#0a0a0a"/>
<circle cx="408.8" cy="386.8" r="1.35" fill="#0a0a0a"/>
<circle cx="411.2" cy="386.8" r="1.35" fill="#0a0a0a"/>
<circle cx="415.2" cy="386.8" r="1.35" fill="#0a0a0a"/>
<circle cx="418.1" cy="386.8" r="1.35" fill="#0a0a0a"/>
<circle cx="421.3" cy="378.7" r="1.35" fill="#0a0a0a"/>
<circle cx="424.2" cy="362.7" r="1.35" fill="#0a0a0a"/>
<circle cx="427.5" cy="344.6" r="1.35" fill="#0a0a0a"/>
<circle cx="427.9" cy="331.5" r="1.35" fill="#0a0a0a"/>
<circle cx="429.6" cy="348.8" r="1.35" fill="#0a0a0a"/>
<circle cx="429.6" cy="358.5" r="1.35" fill="#0a0a0a"/>
<circle cx="433.5" cy="386.8" r="1.35" fill="#0a0a0a"/>
<circle cx="435.4" cy="386.8" r="1.35" fill="#0a0a0a"/>
<line x1="427.8" y1="301.3" x2="427.8" y2="311.8" stroke="#111" stroke-width="1.15" stroke-dasharray="1.84 1.05"/>
<path d="M427.8 316.3l-1.85 -3.6h3.7z" fill="#111"/>
<path d="M428.1 316.9V323.3" stroke="#1a1a1a" stroke-width="1.35" fill="none"/>
<path d="M427.05 322.1h2.1l-0.7 2.1h-0.7z" fill="#222"/>
<path d="M432.9 316.9V323.3" stroke="#1a1a1a" stroke-width="1.35" fill="none"/>
<path d="M431.85 322.1h2.1l-0.7 2.1h-0.7z" fill="#222"/>
<path d="M435.1 316.9V323.3" stroke="#1a1a1a" stroke-width="1.35" fill="none"/>
<path d="M434.05 322.1h2.1l-0.7 2.1h-0.7z" fill="#222"/>
<path d="M440 370.8V380.6M437.3 373.8H442.7" stroke="#222" stroke-width="1.2" fill="none"/>
</g>
<g>
<line x1="27.6" y1="529" x2="152.6" y2="529" stroke="#b4b4b4" stroke-width="0.9" stroke-dasharray="1 0.4"/>
<line x1="27.2" y1="466" x2="27.2" y2="539.5" stroke="#666666" stroke-width="1.1"/>
<path d="M27.6 539h-2.2M27.6 534.62h-1.3M27.6 532.05h-1.3M27.6 530.23h-1.3M27.6 528.82h-1.3M27.6 527.67h-1.3M27.6 526.7h-1.3M27.6 525.85h-1.3M27.6 525.11h-1.3M27.6 524.44h-2.2M27.6 520.06h-1.3M27.6 517.49h-1.3M27.6 515.67h-1.3M27.6 514.26h-1.3M27.6 513.11h-1.3M27.6 512.14h-1.3M27.6 511.29h-1.3M27.6 510.55h-1.3M27.6 509.88h-2.2M27.6 505.5h-1.3M27.6 502.93h-1.3M27.6 501.11h-1.3M27.6 499.7h-1.3M27.6 498.55h-1.3M27.6 497.58h-1.3M27.6 496.73h-1.3M27.6 495.99h-1.3M27.6 495.32h-2.2M27.6 490.94h-1.3M27.6 488.37h-1.3M27.6 486.55h-1.3M27.6 485.14h-1.3M27.6 483.99h-1.3M27.6 483.02h-1.3M27.6 482.17h-1.3M27.6 481.43h-1.3M27.6 480.76h-2.2M27.6 476.38h-1.3M27.6 473.81h-1.3M27.6 471.99h-1.3M27.6 470.58h-1.3M27.6 469.43h-1.3M27.6 468.46h-1.3M27.6 467.61h-1.3M27.6 466.87h-1.3M27.6 466.2h-2.2" stroke="#666666" stroke-width="0.7" fill="none"/>
<line x1="26.8" y1="539" x2="153" y2="539" stroke="#6a6a6a" stroke-width="0.85"/>
<path d="M27.6 539v1.5M52.6 539v1.5M77.6 539v1.5M102.6 539v1.5M127.6 539v1.5M152.6 539v1.5" stroke="#666666" stroke-width="0.9" fill="none"/>
<text transform="translate(27.25 550.1) scale(0.97 1)" class="t" text-anchor="middle">0</text>
<text transform="translate(52.31 550.1) scale(0.97 1)" class="t" text-anchor="middle">60</text>
<text transform="translate(77.37 550.1) scale(0.97 1)" class="t" text-anchor="middle">120</text>
<text transform="translate(102.43 550.1) scale(0.97 1)" class="t" text-anchor="middle">180</text>
<text transform="translate(127.49 550.1) scale(0.97 1)" class="t" text-anchor="middle">240</text>
<text transform="translate(152.55 550.1) scale(0.97 1)" class="t" text-anchor="middle">300</text>
<text transform="translate(21.5 542.1) scale(1 1)" class="ty" text-anchor="end">10</text>
<text transform="translate(21.8 538.9) scale(1 1)" class="s">2</text>
<text transform="translate(21.5 527.54) scale(1 1)" class="ty" text-anchor="end">10</text>
<text transform="translate(21.8 524.34) scale(1 1)" class="s">3</text>
<text transform="translate(21.5 512.98) scale(1 1)" class="ty" text-anchor="end">10</text>
<text transform="translate(21.8 509.78) scale(1 1)" class="s">4</text>
<text transform="translate(21.5 498.42) scale(1 1)" class="ty" text-anchor="end">10</text>
<text transform="translate(21.8 495.22) scale(1 1)" class="s">5</text>
<text transform="translate(21.5 483.86) scale(1 1)" class="ty" text-anchor="end">10</text>
<text transform="translate(21.8 480.66) scale(1 1)" class="s">6</text>
<text transform="translate(21.5 469.3) scale(1 1)" class="ty" text-anchor="end">10</text>
<text transform="translate(21.8 466.1) scale(1 1)" class="s">7</text>
<text transform="translate(89.5 564.3) scale(1 1)" class="l" text-anchor="middle">Days Post Transplant</text>
<text transform="translate(8 500) rotate(-90) scale(1 1)" class="ly" text-anchor="middle">Copies / ml</text>
<text transform="translate(4.9 447.3) scale(1 1)" class="p">Pt 10</text>
<text transform="translate(144 453.1) scale(1 1)" class="L" text-anchor="middle">J</text>
<path d="M29 533.3L31.5 533.3L34 533.3L36.5 533.3L39 533.3L41.8 533.3L44.5 533.3L47 533.3L49.5 533.3L52 533.3L54.5 533.3L57 533.3L59.5 533.3L61.9 512.3L65.2 495.4L67.1 516.5L74.2 533.3L76.7 533.3L79.2 533.3L81.5 533.3L83.1 533.3L84.4 533.3L86 533.3L88.3 533.3L90.8 533.3L93.1 533.3L95.6 533.3L97.9 533.3L100.4 533.3L102.7 533.3L105.2 533.3L107.5 533.3L110 533.3L112.3 533.3L114.8 533.3L121 533.3L126.7 533.3L132.3 533.3L135.2 533.3L141.2 533.3L146.9 533.3L152.1 533.3" stroke="#383838" stroke-width="0.82" fill="none" stroke-linejoin="round"/>
<circle cx="29" cy="533.3" r="1.35" fill="#0a0a0a"/>
<circle cx="31.5" cy="533.3" r="1.35" fill="#0a0a0a"/>
<circle cx="34" cy="533.3" r="1.35" fill="#0a0a0a"/>
<circle cx="36.5" cy="533.3" r="1.35" fill="#0a0a0a"/>
<circle cx="39" cy="533.3" r="1.35" fill="#0a0a0a"/>
<circle cx="41.8" cy="533.3" r="1.35" fill="#0a0a0a"/>
<circle cx="44.5" cy="533.3" r="1.35" fill="#0a0a0a"/>
<circle cx="47" cy="533.3" r="1.35" fill="#0a0a0a"/>
<circle cx="49.5" cy="533.3" r="1.35" fill="#0a0a0a"/>
<circle cx="52" cy="533.3" r="1.35" fill="#0a0a0a"/>
<circle cx="54.5" cy="533.3" r="1.35" fill="#0a0a0a"/>
<circle cx="57" cy="533.3" r="1.35" fill="#0a0a0a"/>
<circle cx="59.5" cy="533.3" r="1.35" fill="#0a0a0a"/>
<circle cx="61.9" cy="512.3" r="1.35" fill="#0a0a0a"/>
<circle cx="65.2" cy="495.4" r="1.35" fill="#0a0a0a"/>
<circle cx="67.1" cy="516.5" r="1.35" fill="#0a0a0a"/>
<circle cx="74.2" cy="533.3" r="1.35" fill="#0a0a0a"/>
<circle cx="76.7" cy="533.3" r="1.35" fill="#0a0a0a"/>
<circle cx="79.2" cy="533.3" r="1.35" fill="#0a0a0a"/>
<circle cx="81.5" cy="533.3" r="1.35" fill="#0a0a0a"/>
<circle cx="83.1" cy="533.3" r="1.35" fill="#0a0a0a"/>
<circle cx="84.4" cy="533.3" r="1.35" fill="#0a0a0a"/>
<circle cx="86" cy="533.3" r="1.35" fill="#0a0a0a"/>
<circle cx="88.3" cy="533.3" r="1.35" fill="#0a0a0a"/>
<circle cx="90.8" cy="533.3" r="1.35" fill="#0a0a0a"/>
<circle cx="93.1" cy="533.3" r="1.35" fill="#0a0a0a"/>
<circle cx="95.6" cy="533.3" r="1.35" fill="#0a0a0a"/>
<circle cx="97.9" cy="533.3" r="1.35" fill="#0a0a0a"/>
<circle cx="100.4" cy="533.3" r="1.35" fill="#0a0a0a"/>
<circle cx="102.7" cy="533.3" r="1.35" fill="#0a0a0a"/>
<circle cx="105.2" cy="533.3" r="1.35" fill="#0a0a0a"/>
<circle cx="107.5" cy="533.3" r="1.35" fill="#0a0a0a"/>
<circle cx="110" cy="533.3" r="1.35" fill="#0a0a0a"/>
<circle cx="112.3" cy="533.3" r="1.35" fill="#0a0a0a"/>
<circle cx="114.8" cy="533.3" r="1.35" fill="#0a0a0a"/>
<circle cx="121" cy="533.3" r="1.35" fill="#0a0a0a"/>
<circle cx="126.7" cy="533.3" r="1.35" fill="#0a0a0a"/>
<circle cx="132.3" cy="533.3" r="1.35" fill="#0a0a0a"/>
<circle cx="135.2" cy="533.3" r="1.35" fill="#0a0a0a"/>
<circle cx="141.2" cy="533.3" r="1.35" fill="#0a0a0a"/>
<circle cx="146.9" cy="533.3" r="1.35" fill="#0a0a0a"/>
<line x1="65.5" y1="466.7" x2="65.5" y2="477.1" stroke="#111" stroke-width="1.15" stroke-dasharray="1.81 1.05"/>
<path d="M65.5 481.6l-1.85 -3.6h3.7z" fill="#111"/>
<path d="M66.2 482.5V488.9" stroke="#1a1a1a" stroke-width="1.35" fill="none"/>
<path d="M65.15 487.7h2.1l-0.7 2.1h-0.7z" fill="#222"/>
<path d="M70 482.5V488.9" stroke="#1a1a1a" stroke-width="1.35" fill="none"/>
<path d="M68.95 487.7h2.1l-0.7 2.1h-0.7z" fill="#222"/>
<path d="M71.4 482.5V488.9" stroke="#1a1a1a" stroke-width="1.35" fill="none"/>
<path d="M70.35 487.7h2.1l-0.7 2.1h-0.7z" fill="#222"/>
<path d="M72.8 482.5V488.9" stroke="#1a1a1a" stroke-width="1.35" fill="none"/>
<path d="M71.75 487.7h2.1l-0.7 2.1h-0.7z" fill="#222"/>
</g>
<g>
<line x1="204.9" y1="529" x2="329.9" y2="529" stroke="#b4b4b4" stroke-width="0.9" stroke-dasharray="1 0.4"/>
<line x1="204.5" y1="466" x2="204.5" y2="539.5" stroke="#666666" stroke-width="1.1"/>
<path d="M204.9 539h-2.2M204.9 534.62h-1.3M204.9 532.05h-1.3M204.9 530.23h-1.3M204.9 528.82h-1.3M204.9 527.67h-1.3M204.9 526.7h-1.3M204.9 525.85h-1.3M204.9 525.11h-1.3M204.9 524.44h-2.2M204.9 520.06h-1.3M204.9 517.49h-1.3M204.9 515.67h-1.3M204.9 514.26h-1.3M204.9 513.11h-1.3M204.9 512.14h-1.3M204.9 511.29h-1.3M204.9 510.55h-1.3M204.9 509.88h-2.2M204.9 505.5h-1.3M204.9 502.93h-1.3M204.9 501.11h-1.3M204.9 499.7h-1.3M204.9 498.55h-1.3M204.9 497.58h-1.3M204.9 496.73h-1.3M204.9 495.99h-1.3M204.9 495.32h-2.2M204.9 490.94h-1.3M204.9 488.37h-1.3M204.9 486.55h-1.3M204.9 485.14h-1.3M204.9 483.99h-1.3M204.9 483.02h-1.3M204.9 482.17h-1.3M204.9 481.43h-1.3M204.9 480.76h-2.2M204.9 476.38h-1.3M204.9 473.81h-1.3M204.9 471.99h-1.3M204.9 470.58h-1.3M204.9 469.43h-1.3M204.9 468.46h-1.3M204.9 467.61h-1.3M204.9 466.87h-1.3M204.9 466.2h-2.2" stroke="#666666" stroke-width="0.7" fill="none"/>
<line x1="204.1" y1="539" x2="330.3" y2="539" stroke="#6a6a6a" stroke-width="0.85"/>
<path d="M204.9 539v1.5M229.9 539v1.5M254.9 539v1.5M279.9 539v1.5M304.9 539v1.5M329.9 539v1.5" stroke="#666666" stroke-width="0.9" fill="none"/>
<text transform="translate(205.15 550.1) scale(0.97 1)" class="t" text-anchor="middle">0</text>
<text transform="translate(230.21 550.1) scale(0.97 1)" class="t" text-anchor="middle">60</text>
<text transform="translate(255.27 550.1) scale(0.97 1)" class="t" text-anchor="middle">120</text>
<text transform="translate(280.33 550.1) scale(0.97 1)" class="t" text-anchor="middle">180</text>
<text transform="translate(305.39 550.1) scale(0.97 1)" class="t" text-anchor="middle">240</text>
<text transform="translate(330.45 550.1) scale(0.97 1)" class="t" text-anchor="middle">300</text>
<text transform="translate(198.8 542.1) scale(1 1)" class="ty" text-anchor="end">10</text>
<text transform="translate(199.1 538.9) scale(1 1)" class="s">2</text>
<text transform="translate(198.8 527.54) scale(1 1)" class="ty" text-anchor="end">10</text>
<text transform="translate(199.1 524.34) scale(1 1)" class="s">3</text>
<text transform="translate(198.8 512.98) scale(1 1)" class="ty" text-anchor="end">10</text>
<text transform="translate(199.1 509.78) scale(1 1)" class="s">4</text>
<text transform="translate(198.8 498.42) scale(1 1)" class="ty" text-anchor="end">10</text>
<text transform="translate(199.1 495.22) scale(1 1)" class="s">5</text>
<text transform="translate(198.8 483.86) scale(1 1)" class="ty" text-anchor="end">10</text>
<text transform="translate(199.1 480.66) scale(1 1)" class="s">6</text>
<text transform="translate(198.8 469.3) scale(1 1)" class="ty" text-anchor="end">10</text>
<text transform="translate(199.1 466.1) scale(1 1)" class="s">7</text>
<text transform="translate(266.8 564.3) scale(1 1)" class="l" text-anchor="middle">Days Post Transplant</text>
<text transform="translate(185.1 500) rotate(-90) scale(1 1)" class="ly" text-anchor="middle">Copies / ml</text>
<text transform="translate(182.2 447.3) scale(1 1)" class="p">Pt 11</text>
<text transform="translate(322.7 453.1) scale(1 1)" class="L" text-anchor="middle">K</text>
<path d="M207.1 533.3L209.6 533.3L216.3 533.3L217.9 533.3L222.1 533.3L224.6 533.3L228.5 533.3L230.8 533.3L233.1 533.3L235.6 533.3L237.9 533.3L240.4 533.3L242.7 533.3L245.8 533.3L248.7 526.9L249.6 489L251 477.1L254.2 479.4L257.3 511.5L260.8 533.3L263.3 533.3L265.6 533.3L268 533.3L270.4 533.3L272.7 533.3L275.2 533.3L281 533.3L289.8 533.3L295.7 533.3L301.3 533.3L313.3 533.3L325 533.3L329.6 533.3" stroke="#383838" stroke-width="0.82" fill="none" stroke-linejoin="round"/>
<circle cx="207.1" cy="533.3" r="1.35" fill="#0a0a0a"/>
<circle cx="209.6" cy="533.3" r="1.35" fill="#0a0a0a"/>
<circle cx="216.3" cy="533.3" r="1.35" fill="#0a0a0a"/>
<circle cx="217.9" cy="533.3" r="1.35" fill="#0a0a0a"/>
<circle cx="222.1" cy="533.3" r="1.35" fill="#0a0a0a"/>
<circle cx="224.6" cy="533.3" r="1.35" fill="#0a0a0a"/>
<circle cx="228.5" cy="533.3" r="1.35" fill="#0a0a0a"/>
<circle cx="230.8" cy="533.3" r="1.35" fill="#0a0a0a"/>
<circle cx="233.1" cy="533.3" r="1.35" fill="#0a0a0a"/>
<circle cx="235.6" cy="533.3" r="1.35" fill="#0a0a0a"/>
<circle cx="237.9" cy="533.3" r="1.35" fill="#0a0a0a"/>
<circle cx="240.4" cy="533.3" r="1.35" fill="#0a0a0a"/>
<circle cx="242.7" cy="533.3" r="1.35" fill="#0a0a0a"/>
<circle cx="245.8" cy="533.3" r="1.35" fill="#0a0a0a"/>
<circle cx="248.7" cy="526.9" r="1.35" fill="#0a0a0a"/>
<circle cx="249.6" cy="489" r="1.35" fill="#0a0a0a"/>
<circle cx="251" cy="477.1" r="1.35" fill="#0a0a0a"/>
<circle cx="254.2" cy="479.4" r="1.35" fill="#0a0a0a"/>
<circle cx="257.3" cy="511.5" r="1.35" fill="#0a0a0a"/>
<circle cx="260.8" cy="533.3" r="1.35" fill="#0a0a0a"/>
<circle cx="263.3" cy="533.3" r="1.35" fill="#0a0a0a"/>
<circle cx="265.6" cy="533.3" r="1.35" fill="#0a0a0a"/>
<circle cx="268" cy="533.3" r="1.35" fill="#0a0a0a"/>
<circle cx="270.4" cy="533.3" r="1.35" fill="#0a0a0a"/>
<circle cx="272.7" cy="533.3" r="1.35" fill="#0a0a0a"/>
<circle cx="275.2" cy="533.3" r="1.35" fill="#0a0a0a"/>
<circle cx="281" cy="533.3" r="1.35" fill="#0a0a0a"/>
<circle cx="289.8" cy="533.3" r="1.35" fill="#0a0a0a"/>
<circle cx="295.7" cy="533.3" r="1.35" fill="#0a0a0a"/>
<circle cx="301.3" cy="533.3" r="1.35" fill="#0a0a0a"/>
<circle cx="313.3" cy="533.3" r="1.35" fill="#0a0a0a"/>
<circle cx="325" cy="533.3" r="1.35" fill="#0a0a0a"/>
<line x1="249.8" y1="448.2" x2="249.8" y2="458.6" stroke="#111" stroke-width="1.15" stroke-dasharray="1.81 1.05"/>
<path d="M249.8 463.1l-1.85 -3.6h3.7z" fill="#111"/>
<path d="M250.3 463.8V470.6" stroke="#1a1a1a" stroke-width="1.35" fill="none"/>
<path d="M249.25 469.4h2.1l-0.7 2.1h-0.7z" fill="#222"/>
<path d="M252.6 463.8V470.6" stroke="#1a1a1a" stroke-width="1.35" fill="none"/>
<path d="M251.55 469.4h2.1l-0.7 2.1h-0.7z" fill="#222"/>
<path d="M256.7 463.8V470.6" stroke="#1a1a1a" stroke-width="1.35" fill="none"/>
<path d="M255.65 469.4h2.1l-0.7 2.1h-0.7z" fill="#222"/>
<path d="M259.6 463.8V470.6" stroke="#1a1a1a" stroke-width="1.35" fill="none"/>
<path d="M258.55 469.4h2.1l-0.7 2.1h-0.7z" fill="#222"/>
</g>
<g>
<line x1="386.2" y1="529" x2="511.2" y2="529" stroke="#b4b4b4" stroke-width="0.9" stroke-dasharray="1 0.4"/>
<line x1="385.8" y1="466" x2="385.8" y2="539.5" stroke="#666666" stroke-width="1.1"/>
<path d="M386.2 539h-2.2M386.2 534.62h-1.3M386.2 532.05h-1.3M386.2 530.23h-1.3M386.2 528.82h-1.3M386.2 527.67h-1.3M386.2 526.7h-1.3M386.2 525.85h-1.3M386.2 525.11h-1.3M386.2 524.44h-2.2M386.2 520.06h-1.3M386.2 517.49h-1.3M386.2 515.67h-1.3M386.2 514.26h-1.3M386.2 513.11h-1.3M386.2 512.14h-1.3M386.2 511.29h-1.3M386.2 510.55h-1.3M386.2 509.88h-2.2M386.2 505.5h-1.3M386.2 502.93h-1.3M386.2 501.11h-1.3M386.2 499.7h-1.3M386.2 498.55h-1.3M386.2 497.58h-1.3M386.2 496.73h-1.3M386.2 495.99h-1.3M386.2 495.32h-2.2M386.2 490.94h-1.3M386.2 488.37h-1.3M386.2 486.55h-1.3M386.2 485.14h-1.3M386.2 483.99h-1.3M386.2 483.02h-1.3M386.2 482.17h-1.3M386.2 481.43h-1.3M386.2 480.76h-2.2M386.2 476.38h-1.3M386.2 473.81h-1.3M386.2 471.99h-1.3M386.2 470.58h-1.3M386.2 469.43h-1.3M386.2 468.46h-1.3M386.2 467.61h-1.3M386.2 466.87h-1.3M386.2 466.2h-2.2" stroke="#666666" stroke-width="0.7" fill="none"/>
<line x1="385.4" y1="539" x2="511.6" y2="539" stroke="#6a6a6a" stroke-width="0.85"/>
<path d="M386.2 539v1.5M411.2 539v1.5M436.2 539v1.5M461.2 539v1.5M486.2 539v1.5M511.2 539v1.5" stroke="#666666" stroke-width="0.9" fill="none"/>
<text transform="translate(386.2 550.1) scale(0.97 1)" class="t" text-anchor="middle">0</text>
<text transform="translate(411.26 550.1) scale(0.97 1)" class="t" text-anchor="middle">60</text>
<text transform="translate(436.32 550.1) scale(0.97 1)" class="t" text-anchor="middle">120</text>
<text transform="translate(461.38 550.1) scale(0.97 1)" class="t" text-anchor="middle">180</text>
<text transform="translate(486.44 550.1) scale(0.97 1)" class="t" text-anchor="middle">240</text>
<text transform="translate(511.5 550.1) scale(0.97 1)" class="t" text-anchor="middle">300</text>
<text transform="translate(380.1 542.1) scale(1 1)" class="ty" text-anchor="end">10</text>
<text transform="translate(380.4 538.9) scale(1 1)" class="s">2</text>
<text transform="translate(380.1 527.54) scale(1 1)" class="ty" text-anchor="end">10</text>
<text transform="translate(380.4 524.34) scale(1 1)" class="s">3</text>
<text transform="translate(380.1 512.98) scale(1 1)" class="ty" text-anchor="end">10</text>
<text transform="translate(380.4 509.78) scale(1 1)" class="s">4</text>
<text transform="translate(380.1 498.42) scale(1 1)" class="ty" text-anchor="end">10</text>
<text transform="translate(380.4 495.22) scale(1 1)" class="s">5</text>
<text transform="translate(380.1 483.86) scale(1 1)" class="ty" text-anchor="end">10</text>
<text transform="translate(380.4 480.66) scale(1 1)" class="s">6</text>
<text transform="translate(380.1 469.3) scale(1 1)" class="ty" text-anchor="end">10</text>
<text transform="translate(380.4 466.1) scale(1 1)" class="s">7</text>
<text transform="translate(448.1 564.3) scale(1 1)" class="l" text-anchor="middle">Days Post Transplant</text>
<text transform="translate(366.1 500) rotate(-90) scale(1 1)" class="ly" text-anchor="middle">Copies / ml</text>
<text transform="translate(363.6 447.3) scale(1 1)" class="p">Pt 12</text>
<text transform="translate(503.6 453.1) scale(1 1)" class="L" text-anchor="middle">L</text>
<path d="M387.3 533.3L393.1 533.3L395.8 533.3L399.8 533.3L402.1 533.3L406 533.3L408.5 533.3L410.8 533.3L413.1 533.3L415.6 533.3L417.9 533.3L420.4 533.3L422.7 533.3L425.2 533.3L427.5 533.3L430 533.3L432.3 533.3L437.1 533.3L440.6 533.3L446.3 519.8L452.4 484.8L454.4 509.6L458.4 533.3L462.7 533.3L465.4 533.3L467.7 533.3L470.2 533.3L472.3 533.3L475.8 533.3L478.5 533.3L480.6 533.3L483.1 533.3L485.4 533.3L487.9 533.3L490.2 533.3L494 533.3L496.3 533.3L498.8 533.3L500.8 533.3L503.3 533.3L504.6 533.3L507.1 533.3L510 533.3L511.3 533.3" stroke="#383838" stroke-width="0.82" fill="none" stroke-linejoin="round"/>
<circle cx="387.3" cy="533.3" r="1.35" fill="#0a0a0a"/>
<circle cx="393.1" cy="533.3" r="1.35" fill="#0a0a0a"/>
<circle cx="395.8" cy="533.3" r="1.35" fill="#0a0a0a"/>
<circle cx="399.8" cy="533.3" r="1.35" fill="#0a0a0a"/>
<circle cx="402.1" cy="533.3" r="1.35" fill="#0a0a0a"/>
<circle cx="406" cy="533.3" r="1.35" fill="#0a0a0a"/>
<circle cx="408.5" cy="533.3" r="1.35" fill="#0a0a0a"/>
<circle cx="410.8" cy="533.3" r="1.35" fill="#0a0a0a"/>
<circle cx="413.1" cy="533.3" r="1.35" fill="#0a0a0a"/>
<circle cx="415.6" cy="533.3" r="1.35" fill="#0a0a0a"/>
<circle cx="417.9" cy="533.3" r="1.35" fill="#0a0a0a"/>
<circle cx="420.4" cy="533.3" r="1.35" fill="#0a0a0a"/>
<circle cx="422.7" cy="533.3" r="1.35" fill="#0a0a0a"/>
<circle cx="425.2" cy="533.3" r="1.35" fill="#0a0a0a"/>
<circle cx="427.5" cy="533.3" r="1.35" fill="#0a0a0a"/>
<circle cx="430" cy="533.3" r="1.35" fill="#0a0a0a"/>
<circle cx="432.3" cy="533.3" r="1.35" fill="#0a0a0a"/>
<circle cx="437.1" cy="533.3" r="1.35" fill="#0a0a0a"/>
<circle cx="440.6" cy="533.3" r="1.35" fill="#0a0a0a"/>
<circle cx="446.3" cy="519.8" r="1.35" fill="#0a0a0a"/>
<circle cx="452.4" cy="484.8" r="1.35" fill="#0a0a0a"/>
<circle cx="454.4" cy="509.6" r="1.35" fill="#0a0a0a"/>
<circle cx="458.4" cy="533.3" r="1.35" fill="#0a0a0a"/>
<circle cx="462.7" cy="533.3" r="1.35" fill="#0a0a0a"/>
<circle cx="465.4" cy="533.3" r="1.35" fill="#0a0a0a"/>
<circle cx="467.7" cy="533.3" r="1.35" fill="#0a0a0a"/>
<circle cx="470.2" cy="533.3" r="1.35" fill="#0a0a0a"/>
<circle cx="472.3" cy="533.3" r="1.35" fill="#0a0a0a"/>
<circle cx="475.8" cy="533.3" r="1.35" fill="#0a0a0a"/>
<circle cx="478.5" cy="533.3" r="1.35" fill="#0a0a0a"/>
<circle cx="480.6" cy="533.3" r="1.35" fill="#0a0a0a"/>
<circle cx="483.1" cy="533.3" r="1.35" fill="#0a0a0a"/>
<circle cx="485.4" cy="533.3" r="1.35" fill="#0a0a0a"/>
<circle cx="487.9" cy="533.3" r="1.35" fill="#0a0a0a"/>
<circle cx="490.2" cy="533.3" r="1.35" fill="#0a0a0a"/>
<circle cx="494" cy="533.3" r="1.35" fill="#0a0a0a"/>
<circle cx="496.3" cy="533.3" r="1.35" fill="#0a0a0a"/>
<circle cx="498.8" cy="533.3" r="1.35" fill="#0a0a0a"/>
<circle cx="500.8" cy="533.3" r="1.35" fill="#0a0a0a"/>
<circle cx="503.3" cy="533.3" r="1.35" fill="#0a0a0a"/>
<circle cx="504.6" cy="533.3" r="1.35" fill="#0a0a0a"/>
<circle cx="507.1" cy="533.3" r="1.35" fill="#0a0a0a"/>
<circle cx="510" cy="533.3" r="1.35" fill="#0a0a0a"/>
<line x1="452.6" y1="456.1" x2="452.6" y2="466.5" stroke="#111" stroke-width="1.15" stroke-dasharray="1.81 1.05"/>
<path d="M452.6 471l-1.85 -3.6h3.7z" fill="#111"/>
<path d="M453.6 471.7V478.3" stroke="#1a1a1a" stroke-width="1.35" fill="none"/>
<path d="M452.55 477.1h2.1l-0.7 2.1h-0.7z" fill="#222"/>
<path d="M455.3 471.7V478.3" stroke="#1a1a1a" stroke-width="1.35" fill="none"/>
<path d="M454.25 477.1h2.1l-0.7 2.1h-0.7z" fill="#222"/>
<path d="M458.4 471.7V478.3" stroke="#1a1a1a" stroke-width="1.35" fill="none"/>
<path d="M457.35 477.1h2.1l-0.7 2.1h-0.7z" fill="#222"/>
</g>
<g>
<line x1="27.6" y1="673.4" x2="152.6" y2="673.4" stroke="#b4b4b4" stroke-width="0.9" stroke-dasharray="1 0.4"/>
<line x1="27.2" y1="610.4" x2="27.2" y2="683.9" stroke="#666666" stroke-width="1.1"/>
<path d="M27.6 683.4h-2.2M27.6 679.02h-1.3M27.6 676.45h-1.3M27.6 674.63h-1.3M27.6 673.22h-1.3M27.6 672.07h-1.3M27.6 671.1h-1.3M27.6 670.25h-1.3M27.6 669.51h-1.3M27.6 668.84h-2.2M27.6 664.46h-1.3M27.6 661.89h-1.3M27.6 660.07h-1.3M27.6 658.66h-1.3M27.6 657.51h-1.3M27.6 656.54h-1.3M27.6 655.69h-1.3M27.6 654.95h-1.3M27.6 654.28h-2.2M27.6 649.9h-1.3M27.6 647.33h-1.3M27.6 645.51h-1.3M27.6 644.1h-1.3M27.6 642.95h-1.3M27.6 641.98h-1.3M27.6 641.13h-1.3M27.6 640.39h-1.3M27.6 639.72h-2.2M27.6 635.34h-1.3M27.6 632.77h-1.3M27.6 630.95h-1.3M27.6 629.54h-1.3M27.6 628.39h-1.3M27.6 627.42h-1.3M27.6 626.57h-1.3M27.6 625.83h-1.3M27.6 625.16h-2.2M27.6 620.78h-1.3M27.6 618.21h-1.3M27.6 616.39h-1.3M27.6 614.98h-1.3M27.6 613.83h-1.3M27.6 612.86h-1.3M27.6 612.01h-1.3M27.6 611.27h-1.3M27.6 610.6h-2.2" stroke="#666666" stroke-width="0.7" fill="none"/>
<line x1="26.8" y1="683.4" x2="153" y2="683.4" stroke="#6a6a6a" stroke-width="0.85"/>
<path d="M27.6 683.4v1.5M52.6 683.4v1.5M77.6 683.4v1.5M102.6 683.4v1.5M127.6 683.4v1.5M152.6 683.4v1.5" stroke="#666666" stroke-width="0.9" fill="none"/>
<text transform="translate(27.25 694.5) scale(0.97 1)" class="t" text-anchor="middle">0</text>
<text transform="translate(52.31 694.5) scale(0.97 1)" class="t" text-anchor="middle">60</text>
<text transform="translate(77.37 694.5) scale(0.97 1)" class="t" text-anchor="middle">120</text>
<text transform="translate(102.43 694.5) scale(0.97 1)" class="t" text-anchor="middle">180</text>
<text transform="translate(127.49 694.5) scale(0.97 1)" class="t" text-anchor="middle">240</text>
<text transform="translate(152.55 694.5) scale(0.97 1)" class="t" text-anchor="middle">300</text>
<text transform="translate(21.5 686.5) scale(1 1)" class="ty" text-anchor="end">10</text>
<text transform="translate(21.8 683.3) scale(1 1)" class="s">2</text>
<text transform="translate(21.5 671.94) scale(1 1)" class="ty" text-anchor="end">10</text>
<text transform="translate(21.8 668.74) scale(1 1)" class="s">3</text>
<text transform="translate(21.5 657.38) scale(1 1)" class="ty" text-anchor="end">10</text>
<text transform="translate(21.8 654.18) scale(1 1)" class="s">4</text>
<text transform="translate(21.5 642.82) scale(1 1)" class="ty" text-anchor="end">10</text>
<text transform="translate(21.8 639.62) scale(1 1)" class="s">5</text>
<text transform="translate(21.5 628.26) scale(1 1)" class="ty" text-anchor="end">10</text>
<text transform="translate(21.8 625.06) scale(1 1)" class="s">6</text>
<text transform="translate(21.5 613.7) scale(1 1)" class="ty" text-anchor="end">10</text>
<text transform="translate(21.8 610.5) scale(1 1)" class="s">7</text>
<text transform="translate(89.5 708.7) scale(1 1)" class="l" text-anchor="middle">Days Post Transplant</text>
<text transform="translate(8 644.4) rotate(-90) scale(1 1)" class="ly" text-anchor="middle">Copies / ml</text>
<text transform="translate(4.9 592) scale(1 1)" class="p">Pt 13</text>
<text transform="translate(144 598.3) scale(1 1)" class="L" text-anchor="middle">M</text>
<path d="M32.5 677.7L35.4 677.7L38.3 677.7L40.8 677.7L43.5 677.7L46 677.7L48.8 677.7L51.3 677.7L57.1 677.7L59.8 677.7L66.7 633.9L70.6 648L71.9 649.3L73.5 670.1L76.9 677.7L79.9 677.7L86.1 677.7L88.3 677.7L90.7 677.7L93.1 677.7L95.5 677.7L97.9 677.7L103.8 677.7L106.4 677.7L108.9 677.7L111.7 677.7L130 677.7L138.7 677.7L147.3 677.7L152.1 677.7" stroke="#383838" stroke-width="0.82" fill="none" stroke-linejoin="round"/>
<circle cx="32.5" cy="677.7" r="1.35" fill="#0a0a0a"/>
<circle cx="35.4" cy="677.7" r="1.35" fill="#0a0a0a"/>
<circle cx="38.3" cy="677.7" r="1.35" fill="#0a0a0a"/>
<circle cx="40.8" cy="677.7" r="1.35" fill="#0a0a0a"/>
<circle cx="43.5" cy="677.7" r="1.35" fill="#0a0a0a"/>
<circle cx="46" cy="677.7" r="1.35" fill="#0a0a0a"/>
<circle cx="48.8" cy="677.7" r="1.35" fill="#0a0a0a"/>
<circle cx="51.3" cy="677.7" r="1.35" fill="#0a0a0a"/>
<circle cx="57.1" cy="677.7" r="1.35" fill="#0a0a0a"/>
<circle cx="59.8" cy="677.7" r="1.35" fill="#0a0a0a"/>
<circle cx="66.7" cy="633.9" r="1.35" fill="#0a0a0a"/>
<circle cx="70.6" cy="648" r="1.35" fill="#0a0a0a"/>
<circle cx="71.9" cy="649.3" r="1.35" fill="#0a0a0a"/>
<circle cx="73.5" cy="670.1" r="1.35" fill="#0a0a0a"/>
<circle cx="76.9" cy="677.7" r="1.35" fill="#0a0a0a"/>
<circle cx="79.9" cy="677.7" r="1.35" fill="#0a0a0a"/>
<circle cx="86.1" cy="677.7" r="1.35" fill="#0a0a0a"/>
<circle cx="88.3" cy="677.7" r="1.35" fill="#0a0a0a"/>
<circle cx="90.7" cy="677.7" r="1.35" fill="#0a0a0a"/>
<circle cx="93.1" cy="677.7" r="1.35" fill="#0a0a0a"/>
<circle cx="95.5" cy="677.7" r="1.35" fill="#0a0a0a"/>
<circle cx="97.9" cy="677.7" r="1.35" fill="#0a0a0a"/>
<circle cx="103.8" cy="677.7" r="1.35" fill="#0a0a0a"/>
<circle cx="106.4" cy="677.7" r="1.35" fill="#0a0a0a"/>
<circle cx="108.9" cy="677.7" r="1.35" fill="#0a0a0a"/>
<circle cx="111.7" cy="677.7" r="1.35" fill="#0a0a0a"/>
<circle cx="130" cy="677.7" r="1.35" fill="#0a0a0a"/>
<circle cx="138.7" cy="677.7" r="1.35" fill="#0a0a0a"/>
<circle cx="147.3" cy="677.7" r="1.35" fill="#0a0a0a"/>
<line x1="68.75" y1="605.6" x2="68.75" y2="616" stroke="#111" stroke-width="1.15" stroke-dasharray="1.81 1.05"/>
<path d="M68.75 620.5l-1.85 -3.6h3.7z" fill="#111"/>
<path d="M70 621V627.7" stroke="#1a1a1a" stroke-width="1.35" fill="none"/>
<path d="M68.95 626.5h2.1l-0.7 2.1h-0.7z" fill="#222"/>
<path d="M72.6 621V627.7" stroke="#1a1a1a" stroke-width="1.35" fill="none"/>
<path d="M71.55 626.5h2.1l-0.7 2.1h-0.7z" fill="#222"/>
<path d="M75.3 621V627.7" stroke="#1a1a1a" stroke-width="1.35" fill="none"/>
<path d="M74.25 626.5h2.1l-0.7 2.1h-0.7z" fill="#222"/>
<path d="M78.2 621V627.7" stroke="#1a1a1a" stroke-width="1.35" fill="none"/>
<path d="M77.15 626.5h2.1l-0.7 2.1h-0.7z" fill="#222"/>
</g>
</svg>
</body></html>
